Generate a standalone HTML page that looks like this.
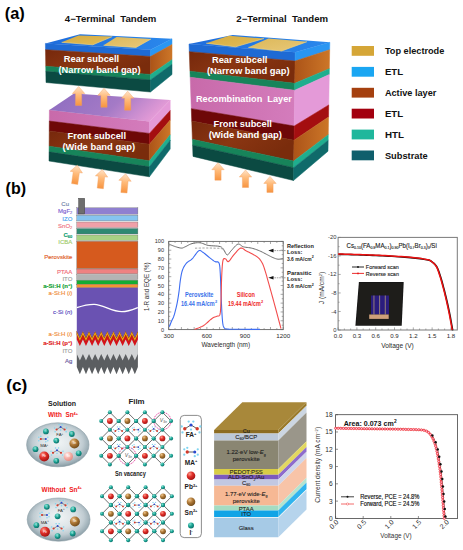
<!DOCTYPE html>
<html><head><meta charset="utf-8"><title>Tandem solar cells</title>
<style>
html,body{margin:0;padding:0;background:#fff;}
body{width:463px;height:550px;overflow:hidden;}
svg{display:block;font-family:"Liberation Sans",sans-serif;}
text{white-space:pre;}
</style></head><body>
<svg width="463" height="550" viewBox="0 0 463 550">
<defs>
<linearGradient id="gPurp" x1="0" y1="0" x2="1" y2="0.25">
 <stop offset="0" stop-color="#8c6cc0"/><stop offset="0.6" stop-color="#a47ac6"/><stop offset="1" stop-color="#e29ad6"/>
</linearGradient>
<linearGradient id="gBlueTop" x1="0" y1="0" x2="1" y2="0">
 <stop offset="0" stop-color="#1e6cdc"/><stop offset="1" stop-color="#2a88ec"/>
</linearGradient>
<linearGradient id="gArrow" x1="0" y1="0" x2="0" y2="1">
 <stop offset="0" stop-color="#ffe3c8"/><stop offset="0.45" stop-color="#ffbb7a"/><stop offset="1" stop-color="#f79440"/>
</linearGradient>
<linearGradient id="gBrownF" x1="0" y1="0" x2="1" y2="0.5">
 <stop offset="0" stop-color="#76280c"/><stop offset="0.5" stop-color="#8a3612"/><stop offset="1" stop-color="#7a2c0c"/>
</linearGradient>
<linearGradient id="gBrownR" x1="0" y1="0" x2="1" y2="0">
 <stop offset="0" stop-color="#ac5418"/><stop offset="1" stop-color="#cc7628"/>
</linearGradient>
<linearGradient id="gRedBrown" x1="0" y1="0" x2="0" y2="1">
 <stop offset="0" stop-color="#6a0606"/><stop offset="0.5" stop-color="#700a08"/><stop offset="1" stop-color="#80300e"/>
</linearGradient>
<linearGradient id="gPinkF" x1="0" y1="0" x2="1" y2="0">
 <stop offset="0" stop-color="#c86aaa"/><stop offset="1" stop-color="#d47cbc"/>
</linearGradient>
<linearGradient id="gGold" x1="0" y1="0" x2="1" y2="1">
 <stop offset="0" stop-color="#d6ac40"/><stop offset="1" stop-color="#e2bc58"/>
</linearGradient>
<linearGradient id="gGold2" x1="0" y1="0" x2="1" y2="1">
 <stop offset="0" stop-color="#dcb85a"/><stop offset="1" stop-color="#e8c878"/>
</linearGradient>

<radialGradient id="gEll" cx="0.5" cy="0.45" r="0.56">
 <stop offset="0" stop-color="#f0f4f5"/><stop offset="0.45" stop-color="#dde4e7"/><stop offset="0.72" stop-color="#c0ccd2"/><stop offset="0.9" stop-color="#9aacb4"/><stop offset="1" stop-color="#7f929b"/>
</radialGradient>
<radialGradient id="gTeal" cx="0.35" cy="0.3" r="0.75">
 <stop offset="0" stop-color="#7fe0d0"/><stop offset="0.5" stop-color="#1aa394"/><stop offset="1" stop-color="#0b6e66"/>
</radialGradient>
<radialGradient id="gRed" cx="0.35" cy="0.3" r="0.75">
 <stop offset="0" stop-color="#ff9a8a"/><stop offset="0.45" stop-color="#e0302a"/><stop offset="1" stop-color="#a01010"/>
</radialGradient>
<radialGradient id="gBrn" cx="0.35" cy="0.3" r="0.75">
 <stop offset="0" stop-color="#f0c890"/><stop offset="0.45" stop-color="#b07a38"/><stop offset="1" stop-color="#6e4818"/>
</radialGradient>
<radialGradient id="gPnk" cx="0.35" cy="0.3" r="0.75">
 <stop offset="0" stop-color="#fff0ee"/><stop offset="0.5" stop-color="#f6b2aa"/><stop offset="1" stop-color="#e08880"/>
</radialGradient>
</defs>
<rect width="463" height="550" fill="#fff"/>
<polygon points="45.40,43.40 150.50,49.70 150.50,56.47 45.50,49.66" fill="#1e6ad4" stroke="#1e6ad4" stroke-width="0.5"/>
<polygon points="45.50,49.66 150.50,56.47 150.50,74.45 45.75,66.27" fill="url(#gBrownF)" stroke="url(#gBrownF)" stroke-width="0.5"/>
<polygon points="45.75,66.27 150.50,74.45 150.50,79.94 45.83,71.36" fill="#17845a" stroke="#17845a" stroke-width="0.5"/>
<polygon points="45.83,71.36 150.50,79.94 150.50,92.00 46.00,82.50" fill="#0b4a42" stroke="#0b4a42" stroke-width="0.5"/>
<polygon points="150.50,49.70 172.00,38.80 172.00,44.51 150.50,56.47" fill="#2a96f2" stroke="#2a96f2" stroke-width="0.5"/>
<polygon points="150.50,56.47 172.00,44.51 172.00,59.68 150.50,74.45" fill="url(#gBrownR)" stroke="url(#gBrownR)" stroke-width="0.5"/>
<polygon points="150.50,74.45 172.00,59.68 172.00,64.33 150.50,79.94" fill="#1fae8e" stroke="#1fae8e" stroke-width="0.5"/>
<polygon points="150.50,79.94 172.00,64.33 172.00,74.50 150.50,92.00" fill="#0f6a6a" stroke="#0f6a6a" stroke-width="0.5"/>
<polygon points="45.40,43.40 150.50,49.70 172.00,38.80 80.00,34.20" fill="url(#gBlueTop)" />
<polygon points="61.60,42.30 92.80,44.80 112.20,36.60 78.50,35.40" fill="url(#gGold)" />
<polygon points="103.60,45.30 136.00,47.40 151.00,39.00 116.60,36.90" fill="url(#gGold2)" />
<polyline points="61.6,42.3 92.8,44.8 112.2,36.6" fill="none" stroke="#f4d27a" stroke-width="0.7"/>
<polyline points="103.6,45.3 136,47.4 151,39.0" fill="none" stroke="#f4d27a" stroke-width="0.7"/>
<polygon points="49.40,110.10 149.40,121.50 149.40,133.39 49.31,121.04" fill="url(#gPinkF)" stroke="url(#gPinkF)" stroke-width="0.5"/>
<polygon points="49.31,121.04 149.40,133.39 149.40,144.17 49.24,130.97" fill="#6e0808" stroke="#6e0808" stroke-width="0.5"/>
<polygon points="49.24,130.97 149.40,144.17 149.40,160.76 49.12,146.24" fill="url(#gBrownF)" stroke="url(#gBrownF)" stroke-width="0.5"/>
<polygon points="49.12,146.24 149.40,160.76 149.40,166.85 49.07,151.84" fill="#17845a" stroke="#17845a" stroke-width="0.5"/>
<polygon points="49.07,151.84 149.40,166.85 149.40,176.80 49.00,161.00" fill="#0b4a42" stroke="#0b4a42" stroke-width="0.5"/>
<polygon points="149.40,121.50 170.20,100.00 170.20,110.53 149.40,133.39" fill="#e49ad8" stroke="#e49ad8" stroke-width="0.5"/>
<polygon points="149.40,133.39 170.20,110.53 170.20,120.09 149.40,144.17" fill="#a40e10" stroke="#a40e10" stroke-width="0.5"/>
<polygon points="149.40,144.17 170.20,120.09 170.20,134.79 149.40,160.76" fill="url(#gBrownR)" stroke="url(#gBrownR)" stroke-width="0.5"/>
<polygon points="149.40,160.76 170.20,134.79 170.20,140.18 149.40,166.85" fill="#1fae8e" stroke="#1fae8e" stroke-width="0.5"/>
<polygon points="149.40,166.85 170.20,140.18 170.20,149.00 149.40,176.80" fill="#0f6a6a" stroke="#0f6a6a" stroke-width="0.5"/>
<polygon points="49.40,110.10 149.40,121.50 170.20,100.00 74.00,93.50" fill="url(#gPurp)" />
<polygon points="189.00,44.00 295.20,52.30 295.08,61.02 189.27,51.64" fill="#1e6ad4" stroke="#1e6ad4" stroke-width="0.5"/>
<polygon points="189.27,51.64 295.08,61.02 294.79,83.32 189.97,71.20" fill="url(#gBrownF)" stroke="url(#gBrownF)" stroke-width="0.5"/>
<polygon points="189.97,71.20 294.79,83.32 294.70,90.25 190.18,77.27" fill="#17845a" stroke="#17845a" stroke-width="0.5"/>
<polygon points="190.18,77.27 294.70,90.25 294.22,126.01 191.30,108.63" fill="url(#gPinkF)" stroke="url(#gPinkF)" stroke-width="0.5"/>
<polygon points="191.30,108.63 294.22,126.01 294.03,140.25 191.74,121.11" fill="#6e0808" stroke="#6e0808" stroke-width="0.5"/>
<polygon points="191.74,121.11 294.03,140.25 293.76,161.01 192.39,139.32" fill="url(#gBrownF)" stroke="url(#gBrownF)" stroke-width="0.5"/>
<polygon points="192.39,139.32 293.76,161.01 293.67,167.68 192.60,145.16" fill="#17845a" stroke="#17845a" stroke-width="0.5"/>
<polygon points="192.60,145.16 293.67,167.68 293.50,180.50 193.00,156.40" fill="#0b4a42" stroke="#0b4a42" stroke-width="0.5"/>
<polygon points="295.20,52.30 329.80,42.30 329.68,49.71 295.08,61.02" fill="#2a96f2" stroke="#2a96f2" stroke-width="0.5"/>
<polygon points="295.08,61.02 329.68,49.71 329.36,68.65 294.79,83.32" fill="url(#gBrownR)" stroke="url(#gBrownR)" stroke-width="0.5"/>
<polygon points="294.79,83.32 329.36,68.65 329.27,74.53 294.70,90.25" fill="#1fae8e" stroke="#1fae8e" stroke-width="0.5"/>
<polygon points="294.70,90.25 329.27,74.53 328.76,104.92 294.22,126.01" fill="#e49ad8" stroke="#e49ad8" stroke-width="0.5"/>
<polygon points="294.22,126.01 328.76,104.92 328.57,117.01 294.03,140.25" fill="#a40e10" stroke="#a40e10" stroke-width="0.5"/>
<polygon points="294.03,140.25 328.57,117.01 328.27,134.65 293.76,161.01" fill="url(#gBrownR)" stroke="url(#gBrownR)" stroke-width="0.5"/>
<polygon points="293.76,161.01 328.27,134.65 328.18,140.31 293.67,167.68" fill="#1fae8e" stroke="#1fae8e" stroke-width="0.5"/>
<polygon points="293.67,167.68 328.18,140.31 328.00,151.20 293.50,180.50" fill="#0f6a6a" stroke="#0f6a6a" stroke-width="0.5"/>
<polygon points="189.00,44.00 295.20,52.30 329.80,42.30 232.70,35.00" fill="url(#gBlueTop)" />
<polygon points="206.20,43.20 235.50,46.80 264.00,38.50 229.00,35.80" fill="url(#gGold)" />
<polygon points="248.30,47.30 281.50,51.00 307.00,41.70 268.50,38.60" fill="url(#gGold2)" />
<polyline points="206.2,43.2 235.5,46.8 264,38.5" fill="none" stroke="#f4d27a" stroke-width="0.7"/>
<polyline points="248.3,47.3 281.5,51 307,41.7" fill="none" stroke="#f4d27a" stroke-width="0.7"/>
<g transform="translate(78.6,86.5) rotate(0)"><polygon points="0.00,0.00 6.20,7.00 3.10,7.00 3.10,19.00 -3.10,19.00 -3.10,7.00 -6.20,7.00" fill="url(#gArrow)" stroke="#f3a060" stroke-width="0.4"/></g>
<g transform="translate(104,88.3) rotate(0)"><polygon points="0.00,0.00 6.20,7.00 3.10,7.00 3.10,19.00 -3.10,19.00 -3.10,7.00 -6.20,7.00" fill="url(#gArrow)" stroke="#f3a060" stroke-width="0.4"/></g>
<g transform="translate(127.7,91.2) rotate(0)"><polygon points="0.00,0.00 6.20,7.00 3.10,7.00 3.10,19.00 -3.10,19.00 -3.10,7.00 -6.20,7.00" fill="url(#gArrow)" stroke="#f3a060" stroke-width="0.4"/></g>
<g transform="translate(77.3,165.2) rotate(8)"><polygon points="0.00,0.00 6.20,7.00 3.10,7.00 3.10,19.00 -3.10,19.00 -3.10,7.00 -6.20,7.00" fill="url(#gArrow)" stroke="#f3a060" stroke-width="0.4"/></g>
<g transform="translate(102.3,169.5) rotate(6)"><polygon points="0.00,0.00 6.20,7.00 3.10,7.00 3.10,19.00 -3.10,19.00 -3.10,7.00 -6.20,7.00" fill="url(#gArrow)" stroke="#f3a060" stroke-width="0.4"/></g>
<g transform="translate(125.6,173.8) rotate(5)"><polygon points="0.00,0.00 6.20,7.00 3.10,7.00 3.10,19.00 -3.10,19.00 -3.10,7.00 -6.20,7.00" fill="url(#gArrow)" stroke="#f3a060" stroke-width="0.4"/></g>
<g transform="translate(218,162.7) rotate(0)"><polygon points="0.00,0.00 6.20,7.00 3.10,7.00 3.10,17.50 -3.10,17.50 -3.10,7.00 -6.20,7.00" fill="url(#gArrow)" stroke="#f3a060" stroke-width="0.4"/></g>
<g transform="translate(245.5,170) rotate(0)"><polygon points="0.00,0.00 6.20,7.00 3.10,7.00 3.10,17.50 -3.10,17.50 -3.10,7.00 -6.20,7.00" fill="url(#gArrow)" stroke="#f3a060" stroke-width="0.4"/></g>
<g transform="translate(270,176.4) rotate(0)"><polygon points="0.00,0.00 6.20,7.00 3.10,7.00 3.10,16.00 -3.10,16.00 -3.10,7.00 -6.20,7.00" fill="url(#gArrow)" stroke="#f3a060" stroke-width="0.4"/></g>
<text x="4.8" y="18.7" font-size="16.6" fill="#000" font-weight="bold" text-anchor="start" textLength="20" lengthAdjust="spacingAndGlyphs" >(a)</text>
<text x="64.8" y="22.4" font-size="8.9" fill="#111" font-weight="bold" text-anchor="start" textLength="91.6" lengthAdjust="spacingAndGlyphs" >4&#8722;Terminal  Tandem</text>
<text x="236.3" y="21.9" font-size="8.9" fill="#111" font-weight="bold" text-anchor="start" textLength="91.8" lengthAdjust="spacingAndGlyphs" >2&#8722;Terminal  Tandem</text>
<text x="63.8" y="62" font-size="9.3" fill="#fff" font-weight="bold" text-anchor="start" textLength="55.4" lengthAdjust="spacingAndGlyphs" >Rear subcell</text>
<text x="58.5" y="73" font-size="9.3" fill="#fff" font-weight="bold" text-anchor="start" textLength="82" lengthAdjust="spacingAndGlyphs" >(Narrow band gap)</text>
<text x="67.6" y="139" font-size="9.3" fill="#fff" font-weight="bold" text-anchor="start" textLength="58.4" lengthAdjust="spacingAndGlyphs" >Front subcell</text>
<text x="62.4" y="149.6" font-size="9.3" fill="#fff" font-weight="bold" text-anchor="start" textLength="72.8" lengthAdjust="spacingAndGlyphs" >(Wide band gap)</text>
<text x="211.9" y="63" font-size="9.3" fill="#fff" font-weight="bold" text-anchor="start" textLength="55.5" lengthAdjust="spacingAndGlyphs" >Rear subcell</text>
<text x="206.9" y="73.8" font-size="9.3" fill="#fff" font-weight="bold" text-anchor="start" textLength="82.7" lengthAdjust="spacingAndGlyphs" >(Narrow band gap)</text>
<text x="196" y="101.8" font-size="9.3" fill="#fff" font-weight="bold" text-anchor="start" textLength="95.8" lengthAdjust="spacingAndGlyphs" >Recombination  Layer</text>
<text x="213.6" y="127.3" font-size="9.3" fill="#fff" font-weight="bold" text-anchor="start" textLength="58.2" lengthAdjust="spacingAndGlyphs" >Front subcell</text>
<text x="208.7" y="138.2" font-size="9.3" fill="#fff" font-weight="bold" text-anchor="start" textLength="73.1" lengthAdjust="spacingAndGlyphs" >(Wide band gap)</text>
<rect x="351.7" y="46.0" width="22.3" height="9.8" fill="#d5a637"/>
<text x="384.9" y="54.0" font-size="9.9" fill="#111" font-weight="bold" text-anchor="start" textLength="59.4" lengthAdjust="spacingAndGlyphs" >Top electrode</text>
<rect x="351.7" y="66.9" width="22.3" height="9.8" fill="#1aa6f2"/>
<text x="384.9" y="74.9" font-size="9.9" fill="#111" font-weight="bold" text-anchor="start" textLength="18.2" lengthAdjust="spacingAndGlyphs" >ETL</text>
<rect x="351.7" y="87.8" width="22.3" height="9.8" fill="#a5400f"/>
<text x="384.9" y="95.8" font-size="9.9" fill="#111" font-weight="bold" text-anchor="start" textLength="51.5" lengthAdjust="spacingAndGlyphs" >Active layer</text>
<rect x="351.7" y="108.7" width="22.3" height="9.8" fill="#a3000f"/>
<text x="384.9" y="116.7" font-size="9.9" fill="#111" font-weight="bold" text-anchor="start" textLength="18.2" lengthAdjust="spacingAndGlyphs" >ETL</text>
<rect x="351.7" y="129.6" width="22.3" height="9.8" fill="#1fb79c"/>
<text x="384.9" y="137.6" font-size="9.9" fill="#111" font-weight="bold" text-anchor="start" textLength="19.0" lengthAdjust="spacingAndGlyphs" >HTL</text>
<rect x="351.7" y="150.5" width="22.3" height="9.8" fill="#0f5f6c"/>
<text x="384.9" y="158.5" font-size="9.9" fill="#111" font-weight="bold" text-anchor="start" textLength="42.8" lengthAdjust="spacingAndGlyphs" >Substrate</text>
<text x="5.6" y="193.6" font-size="16.6" fill="#000" font-weight="bold" text-anchor="start" textLength="20.5" lengthAdjust="spacingAndGlyphs" >(b)</text>
<rect x="76.8" y="207.8" width="61.1" height="6.4" fill="#8f80d0" stroke="#6a6a6a" stroke-width="0.35"/>
<rect x="76.8" y="215.2" width="61.1" height="5.7" fill="#86c4f0" stroke="#6a6a6a" stroke-width="0.35"/>
<rect x="76.8" y="222.0" width="61.1" height="5.5" fill="#f0a0a8" stroke="#6a6a6a" stroke-width="0.35"/>
<rect x="76.8" y="228.5" width="61.1" height="5.5" fill="#2e8a72" stroke="#6a6a6a" stroke-width="0.35"/>
<rect x="76.8" y="235.0" width="61.1" height="5.4" fill="#a8d284" stroke="#6a6a6a" stroke-width="0.35"/>
<rect x="76.8" y="241.3" width="61.1" height="27.3" fill="#d65a1e" stroke="#6a6a6a" stroke-width="0.35"/>
<rect x="76.8" y="269.0" width="61.1" height="4.8" fill="#ef8282" stroke="#6a6a6a" stroke-width="0.35"/>
<rect x="76.8" y="274.7" width="61.1" height="4.8" fill="#b4b4b4" stroke="#6a6a6a" stroke-width="0.35"/>
<rect x="76.8" y="280.2" width="61.1" height="4.0" fill="#14ac34" stroke="#6a6a6a" stroke-width="0.35"/>
<rect x="76.8" y="284.2" width="61.1" height="3.6" fill="#f39433" stroke="#6a6a6a" stroke-width="0.35"/>
<rect x="78.7" y="198.3" width="6" height="15.6" fill="#6e6e6e" stroke="#444" stroke-width="0.5"/>
<polygon points="76.80,331.00 79.86,337.40 82.91,331.00 85.97,337.40 89.02,331.00 92.08,337.40 95.13,331.00 98.19,337.40 101.24,331.00 104.30,337.40 107.35,331.00 110.41,337.40 113.46,331.00 116.52,337.40 119.57,331.00 122.62,337.40 125.68,331.00 128.74,337.40 131.79,331.00 134.84,337.40 137.90,331.00 137.90,367.00 134.84,374.30 131.79,367.00 128.74,374.30 125.68,367.00 122.62,374.30 119.57,367.00 116.52,374.30 113.46,367.00 110.41,374.30 107.35,367.00 104.30,374.30 101.24,367.00 98.19,374.30 95.13,367.00 92.08,374.30 89.02,367.00 85.97,374.30 82.91,367.00 79.86,374.30 76.80,367.00" fill="#5b5e61" />
<polygon points="76.80,331.00 79.86,337.40 82.91,331.00 85.97,337.40 89.02,331.00 92.08,337.40 95.13,331.00 98.19,337.40 101.24,331.00 104.30,337.40 107.35,331.00 110.41,337.40 113.46,331.00 116.52,337.40 119.57,331.00 122.62,337.40 125.68,331.00 128.74,337.40 131.79,331.00 134.84,337.40 137.90,331.00 137.90,354.00 134.84,360.50 131.79,354.00 128.74,360.50 125.68,354.00 122.62,360.50 119.57,354.00 116.52,360.50 113.46,354.00 110.41,360.50 107.35,354.00 104.30,360.50 101.24,354.00 98.19,360.50 95.13,354.00 92.08,360.50 89.02,354.00 85.97,360.50 82.91,354.00 79.86,360.50 76.80,354.00" fill="#d2d4d6" />
<polygon points="76.80,331.00 79.86,337.40 82.91,331.00 85.97,337.40 89.02,331.00 92.08,337.40 95.13,331.00 98.19,337.40 101.24,331.00 104.30,337.40 107.35,331.00 110.41,337.40 113.46,331.00 116.52,337.40 119.57,331.00 122.62,337.40 125.68,331.00 128.74,337.40 131.79,331.00 134.84,337.40 137.90,331.00 137.90,339.60 134.84,346.00 131.79,339.60 128.74,346.00 125.68,339.60 122.62,346.00 119.57,339.60 116.52,346.00 113.46,339.60 110.41,346.00 107.35,339.60 104.30,346.00 101.24,339.60 98.19,346.00 95.13,339.60 92.08,346.00 89.02,339.60 85.97,346.00 82.91,339.60 79.86,346.00 76.80,339.60" fill="#d6121a" />
<polygon points="76.80,331.00 79.86,337.40 82.91,331.00 85.97,337.40 89.02,331.00 92.08,337.40 95.13,331.00 98.19,337.40 101.24,331.00 104.30,337.40 107.35,331.00 110.41,337.40 113.46,331.00 116.52,337.40 119.57,331.00 122.62,337.40 125.68,331.00 128.74,337.40 131.79,331.00 134.84,337.40 137.90,331.00 137.90,335.10 134.84,341.50 131.79,335.10 128.74,341.50 125.68,335.10 122.62,341.50 119.57,335.10 116.52,341.50 113.46,335.10 110.41,341.50 107.35,335.10 104.30,341.50 101.24,335.10 98.19,341.50 95.13,335.10 92.08,341.50 89.02,335.10 85.97,341.50 82.91,335.10 79.86,341.50 76.80,335.10" fill="#6a3418" />
<polygon points="76.80,331.00 79.86,337.40 82.91,331.00 85.97,337.40 89.02,331.00 92.08,337.40 95.13,331.00 98.19,337.40 101.24,331.00 104.30,337.40 107.35,331.00 110.41,337.40 113.46,331.00 116.52,337.40 119.57,331.00 122.62,337.40 125.68,331.00 128.74,337.40 131.79,331.00 134.84,337.40 137.90,331.00 137.90,334.50 134.84,340.90 131.79,334.50 128.74,340.90 125.68,334.50 122.62,340.90 119.57,334.50 116.52,340.90 113.46,334.50 110.41,340.90 107.35,334.50 104.30,340.90 101.24,334.50 98.19,340.90 95.13,334.50 92.08,340.90 89.02,334.50 85.97,340.90 82.91,334.50 79.86,340.90 76.80,334.50" fill="#f2a012" />
<polygon points="76.80,331.00 79.86,337.40 82.91,331.00 85.97,337.40 89.02,331.00 92.08,337.40 95.13,331.00 98.19,337.40 101.24,331.00 104.30,337.40 107.35,331.00 110.41,337.40 113.46,331.00 116.52,337.40 119.57,331.00 122.62,337.40 125.68,331.00 128.74,337.40 131.79,331.00 134.84,337.40 137.90,331.00 137.90,331.80 134.84,338.20 131.79,331.80 128.74,338.20 125.68,331.80 122.62,338.20 119.57,331.80 116.52,338.20 113.46,331.80 110.41,338.20 107.35,331.80 104.30,338.20 101.24,331.80 98.19,338.20 95.13,331.80 92.08,338.20 89.02,331.80 85.97,338.20 82.91,331.80 79.86,338.20 76.80,331.80" fill="#6a3418" />
<polygon points="76.80,287.80 137.90,287.80 137.90,331.00 134.84,337.40 131.79,331.00 128.74,337.40 125.68,331.00 122.62,337.40 119.57,331.00 116.52,337.40 113.46,331.00 110.41,337.40 107.35,331.00 104.30,337.40 101.24,331.00 98.19,337.40 95.13,331.00 92.08,337.40 89.02,331.00 85.97,337.40 82.91,331.00 79.86,337.40 76.80,331.00" fill="#6a52b2" />
<path d="M76.8,307.7 C83,305.6 88,304.3 94.3,304.4 C103,304.6 112,311.7 121.8,311.7 C128,311.7 133,309.5 137.9,307.5" fill="none" stroke="#fff" stroke-width="1.3"/>
<text x="69.0" y="205.6" font-size="6" fill="#6d7fa8" font-weight="normal" text-anchor="end" stroke="#6d7fa8" stroke-width="0.15">Cu</text>
<text x="72.3" y="212.8" font-size="6" fill="#7d62d0" font-weight="normal" text-anchor="end" stroke="#7d62d0" stroke-width="0.15">MgF<tspan font-size='4' dy='1.2'>2</tspan></text>
<text x="72.3" y="220.9" font-size="6" fill="#4aa6f0" font-weight="normal" text-anchor="end" stroke="#4aa6f0" stroke-width="0.15">IZO</text>
<text x="72.3" y="228.0" font-size="6" fill="#f07080" font-weight="normal" text-anchor="end" stroke="#f07080" stroke-width="0.15">SnO<tspan font-size='4' dy='1.2'>2</tspan></text>
<text x="72.3" y="236.6" font-size="6" fill="#129e72" font-weight="bold" text-anchor="end" stroke="#129e72" stroke-width="0.15">C<tspan font-size='4' dy='1.2'>60</tspan></text>
<text x="72.3" y="243.6" font-size="6" fill="#a0cc6a" font-weight="normal" text-anchor="end" stroke="#a0cc6a" stroke-width="0.15">ICBA</text>
<text x="72.3" y="258.6" font-size="6" fill="#e0602a" font-weight="normal" text-anchor="end" stroke="#e0602a" stroke-width="0.15">Perovskite</text>
<text x="72.3" y="273.9" font-size="6" fill="#f06a78" font-weight="normal" text-anchor="end" stroke="#f06a78" stroke-width="0.15">PTAA</text>
<text x="72.3" y="280.7" font-size="6" fill="#a0a0a0" font-weight="normal" text-anchor="end" stroke="#a0a0a0" stroke-width="0.15">ITO</text>
<text x="72.3" y="288.0" font-size="6" fill="#10a030" font-weight="bold" text-anchor="end" stroke="#10a030" stroke-width="0.15">a-Si:H (n<tspan font-size='4' dy='-2'>+</tspan><tspan dy='2'>)</tspan></text>
<text x="72.3" y="295.2" font-size="6" fill="#f08a34" font-weight="normal" text-anchor="end" stroke="#f08a34" stroke-width="0.15">a-Si:H (<tspan font-style='italic'>i</tspan>)</text>
<text x="72.3" y="313.9" font-size="6" fill="#5a48c0" font-weight="normal" text-anchor="end" stroke="#5a48c0" stroke-width="0.15">c-Si (<tspan font-style='italic'>n</tspan>)</text>
<text x="72.3" y="336.0" font-size="6" fill="#f08a34" font-weight="normal" text-anchor="end" stroke="#f08a34" stroke-width="0.15">a-Si:H (<tspan font-style='italic'>i</tspan>)</text>
<text x="72.3" y="344.8" font-size="6" fill="#e02020" font-weight="bold" text-anchor="end" stroke="#e02020" stroke-width="0.15">a-Si:H (p<tspan font-size='4' dy='-2'>+</tspan><tspan dy='2'>)</tspan></text>
<text x="72.3" y="352.6" font-size="6" fill="#a0a0a0" font-weight="normal" text-anchor="end" stroke="#a0a0a0" stroke-width="0.15">ITO</text>
<text x="72.3" y="362.6" font-size="6" fill="#6a5aa0" font-weight="normal" text-anchor="end" stroke="#6a5aa0" stroke-width="0.15">Ag</text>
<path d="M168.7,329.60h2.6M283.2,329.60h-2.6M168.7,325.19h1.5M283.2,325.19h-1.5M168.7,320.78h2.6M283.2,320.78h-2.6M168.7,316.37h1.5M283.2,316.37h-1.5M168.7,311.96h2.6M283.2,311.96h-2.6M168.7,307.55h1.5M283.2,307.55h-1.5M168.7,303.14h2.6M283.2,303.14h-2.6M168.7,298.73h1.5M283.2,298.73h-1.5M168.7,294.32h2.6M283.2,294.32h-2.6M168.7,289.91h1.5M283.2,289.91h-1.5M168.7,285.50h2.6M283.2,285.50h-2.6M168.7,281.09h1.5M283.2,281.09h-1.5M168.7,276.68h2.6M283.2,276.68h-2.6M168.7,272.27h1.5M283.2,272.27h-1.5M168.7,267.86h2.6M283.2,267.86h-2.6M168.7,263.45h1.5M283.2,263.45h-1.5M168.7,259.04h2.6M283.2,259.04h-2.6M168.7,254.63h1.5M283.2,254.63h-1.5M168.7,250.22h2.6M283.2,250.22h-2.6M168.7,245.81h1.5M283.2,245.81h-1.5M168.7,241.40h2.6M283.2,241.40h-2.6M168.70,329.6v-2.6M168.70,241.4v2.6M175.06,329.6v-1.5M175.06,241.4v1.5M181.42,329.6v-2.6M181.42,241.4v2.6M187.78,329.6v-1.5M187.78,241.4v1.5M194.14,329.6v-2.6M194.14,241.4v2.6M200.51,329.6v-1.5M200.51,241.4v1.5M206.87,329.6v-2.6M206.87,241.4v2.6M213.23,329.6v-1.5M213.23,241.4v1.5M219.59,329.6v-2.6M219.59,241.4v2.6M225.95,329.6v-1.5M225.95,241.4v1.5M232.31,329.6v-2.6M232.31,241.4v2.6M238.67,329.6v-1.5M238.67,241.4v1.5M245.03,329.6v-2.6M245.03,241.4v2.6M251.39,329.6v-1.5M251.39,241.4v1.5M257.76,329.6v-2.6M257.76,241.4v2.6M264.12,329.6v-1.5M264.12,241.4v1.5M270.48,329.6v-2.6M270.48,241.4v2.6M276.84,329.6v-1.5M276.84,241.4v1.5M283.20,329.6v-2.6M283.20,241.4v2.6" stroke="#555" stroke-width="0.5" fill="none"/>
<rect x="168.7" y="241.4" width="114.5" height="88.2" fill="none" stroke="#666" stroke-width="0.9"/>
<text x="164" y="331.6" font-size="5.6" fill="#333" font-weight="normal" text-anchor="end" >0</text>
<text x="164" y="322.8" font-size="5.6" fill="#333" font-weight="normal" text-anchor="end" >10</text>
<text x="164" y="314.0" font-size="5.6" fill="#333" font-weight="normal" text-anchor="end" >20</text>
<text x="164" y="305.1" font-size="5.6" fill="#333" font-weight="normal" text-anchor="end" >30</text>
<text x="164" y="296.3" font-size="5.6" fill="#333" font-weight="normal" text-anchor="end" >40</text>
<text x="164" y="287.5" font-size="5.6" fill="#333" font-weight="normal" text-anchor="end" >50</text>
<text x="164" y="278.7" font-size="5.6" fill="#333" font-weight="normal" text-anchor="end" >60</text>
<text x="164" y="269.9" font-size="5.6" fill="#333" font-weight="normal" text-anchor="end" >70</text>
<text x="164" y="261.0" font-size="5.6" fill="#333" font-weight="normal" text-anchor="end" >80</text>
<text x="164" y="252.2" font-size="5.6" fill="#333" font-weight="normal" text-anchor="end" >90</text>
<text x="164" y="243.4" font-size="5.6" fill="#333" font-weight="normal" text-anchor="end" >100</text>
<text x="168.7" y="337.6" font-size="6.2" fill="#2a2a2a" font-weight="normal" text-anchor="middle" >300</text>
<text x="206.9" y="337.6" font-size="6.2" fill="#2a2a2a" font-weight="normal" text-anchor="middle" >600</text>
<text x="245.0" y="337.6" font-size="6.2" fill="#2a2a2a" font-weight="normal" text-anchor="middle" >900</text>
<text x="283.2" y="337.6" font-size="6.2" fill="#2a2a2a" font-weight="normal" text-anchor="middle" >1200</text>
<text x="201.5" y="346.6" font-size="7.0" fill="#2a2a2a" font-weight="normal" text-anchor="start" textLength="48.6" lengthAdjust="spacingAndGlyphs" >Wavelength (nm)</text>
<text x="0" y="0" font-size="6.6" fill="#333" font-weight="normal" text-anchor="middle" textLength="48.5" lengthAdjust="spacingAndGlyphs" transform="translate(149.3,286.7) rotate(-90)">1-R and EQE (%)</text>
<path d="M169.00,244.10 L169.57,244.34 L170.35,244.69 L171.28,245.09 L172.30,245.51 L173.36,245.93 L174.40,246.30 L175.48,246.66 L176.67,247.04 L177.89,247.42 L179.09,247.74 L180.21,247.98 L181.20,248.10 L182.00,248.08 L182.64,247.97 L183.20,247.76 L183.76,247.49 L184.40,247.16 L185.20,246.80 L186.16,246.35 L187.21,245.79 L188.34,245.17 L189.53,244.56 L190.76,244.02 L192.00,243.60 L193.27,243.29 L194.60,243.03 L195.97,242.84 L197.35,242.73 L198.73,242.71 L200.10,242.80 L201.42,243.06 L202.70,243.48 L203.98,243.99 L205.30,244.53 L206.69,245.03 L208.20,245.40 L209.92,245.63 L211.85,245.77 L213.86,245.87 L215.80,245.96 L217.56,246.09 L219.00,246.30 L220.06,246.56 L220.83,246.81 L221.42,247.11 L221.91,247.49 L222.41,247.97 L223.00,248.60 L223.68,249.54 L224.36,250.79 L225.05,252.15 L225.74,253.42 L226.42,254.41 L227.10,254.90 L227.74,254.85 L228.34,254.40 L228.93,253.66 L229.56,252.74 L230.27,251.75 L231.10,250.80 L232.09,249.72 L233.21,248.41 L234.41,247.03 L235.63,245.73 L236.82,244.70 L237.90,244.10 L238.85,244.02 L239.70,244.36 L240.52,244.95 L241.35,245.66 L242.26,246.32 L243.30,246.80 L244.49,247.08 L245.80,247.29 L247.18,247.45 L248.60,247.61 L250.02,247.82 L251.40,248.10 L252.75,248.45 L254.10,248.84 L255.45,249.28 L256.80,249.74 L258.15,250.25 L259.50,250.80 L260.88,251.42 L262.30,252.11 L263.72,252.85 L265.10,253.59 L266.41,254.28 L267.60,254.90 L268.66,255.44 L269.61,255.94 L270.49,256.41 L271.33,256.83 L272.15,257.23 L273.00,257.60 L273.86,257.96 L274.70,258.30 L275.52,258.61 L276.35,258.87 L277.17,259.07 L278.00,259.20 L278.89,259.22 L279.85,259.14 L280.81,259.00 L281.70,258.84 L282.46,258.69 L283.00,258.60" fill="none" stroke="#6a6a6a" stroke-width="1.0" stroke-linejoin="round"/>
<path d="M195.00,248.20 L196.09,248.17 L197.59,248.13 L199.38,248.09 L201.30,248.04 L203.22,248.01 L205.00,248.00 L206.70,248.01 L208.44,248.02 L210.19,248.05 L211.89,248.09 L213.51,248.14 L215.00,248.20 L216.39,248.25 L217.70,248.27 L218.94,248.31 L220.07,248.39 L221.10,248.54 L222.00,248.80 L222.77,249.22 L223.41,249.79 L223.94,250.44 L224.37,251.07 L224.72,251.62 L225.00,252.00" fill="none" stroke="#8a8a8a" stroke-width="0.8" stroke-linejoin="round" stroke-dasharray="2.2,1.5"/>
<path d="M169.30,326.70 L169.51,326.19 L169.79,325.50 L170.12,324.68 L170.49,323.76 L170.89,322.78 L171.30,321.80 L171.73,320.83 L172.20,319.86 L172.69,318.82 L173.20,317.70 L173.71,316.44 L174.20,315.00 L174.69,313.33 L175.20,311.46 L175.71,309.45 L176.21,307.37 L176.67,305.30 L177.10,303.30 L177.48,301.36 L177.83,299.43 L178.14,297.50 L178.44,295.57 L178.72,293.64 L179.00,291.70 L179.25,289.74 L179.48,287.74 L179.69,285.75 L179.90,283.78 L180.13,281.85 L180.40,280.00 L180.69,278.20 L180.97,276.43 L181.28,274.71 L181.63,273.05 L182.03,271.47 L182.50,270.00 L183.05,268.62 L183.67,267.33 L184.34,266.12 L185.06,265.00 L185.82,263.96 L186.60,263.00 L187.41,262.21 L188.26,261.60 L189.14,261.07 L190.06,260.53 L191.01,259.88 L192.00,259.00 L193.07,257.77 L194.23,256.22 L195.43,254.56 L196.61,252.98 L197.72,251.66 L198.70,250.80 L199.50,250.43 L200.16,250.41 L200.75,250.65 L201.34,251.08 L202.00,251.62 L202.80,252.20 L203.78,252.88 L204.89,253.76 L206.06,254.74 L207.26,255.76 L208.42,256.73 L209.50,257.60 L210.50,258.38 L211.48,259.13 L212.42,259.85 L213.32,260.51 L214.18,261.10 L215.00,261.60 L215.78,261.87 L216.54,261.90 L217.26,261.86 L217.92,261.92 L218.51,262.24 L219.00,263.00 L219.38,264.10 L219.64,265.40 L219.84,266.96 L219.99,268.87 L220.13,271.19 L220.30,274.00 L220.48,277.51 L220.64,281.70 L220.80,286.31 L220.96,291.07 L221.12,295.72 L221.30,300.00 L221.49,304.08 L221.69,308.21 L221.89,312.24 L222.11,315.99 L222.35,319.29 L222.60,322.00 L222.86,324.01 L223.13,325.43 L223.41,326.42 L223.73,327.11 L224.08,327.66 L224.50,328.20 L224.89,328.66 L225.23,328.92 L225.62,329.02 L226.14,329.05 L226.91,329.05 L228.00,329.10 L229.42,329.18 L231.07,329.22 L232.97,329.25 L235.09,329.27 L237.44,329.28 L240.00,329.30 L243.10,329.32 L246.81,329.34 L250.75,329.36 L254.52,329.38 L257.73,329.39 L260.00,329.40" fill="none" stroke="#3d6df2" stroke-width="1.1" stroke-linejoin="round"/>
<path d="M194.60,329.40 L195.56,329.04 L196.89,328.57 L198.46,328.00 L200.16,327.33 L201.84,326.56 L203.40,325.70 L204.89,324.65 L206.41,323.38 L207.94,322.01 L209.41,320.67 L210.78,319.46 L212.00,318.50 L213.06,317.83 L214.01,317.36 L214.85,317.02 L215.61,316.76 L216.32,316.51 L217.00,316.20 L217.64,315.99 L218.22,315.96 L218.75,315.94 L219.22,315.76 L219.64,315.24 L220.00,314.20 L220.29,312.65 L220.49,310.73 L220.64,308.47 L220.76,305.91 L220.87,303.07 L221.00,300.00 L221.13,296.47 L221.23,292.42 L221.33,288.09 L221.43,283.75 L221.55,279.63 L221.70,276.00 L221.87,272.74 L222.04,269.62 L222.22,266.73 L222.44,264.16 L222.70,261.99 L223.00,260.30 L223.37,259.20 L223.80,258.66 L224.26,258.51 L224.75,258.61 L225.23,258.82 L225.70,259.00 L226.12,259.32 L226.50,259.92 L226.88,260.64 L227.30,261.28 L227.79,261.66 L228.40,261.60 L229.13,261.02 L229.95,260.06 L230.84,258.84 L231.80,257.49 L232.79,256.13 L233.80,254.90 L234.87,253.66 L236.01,252.29 L237.20,250.91 L238.39,249.67 L239.53,248.68 L240.60,248.10 L241.58,248.00 L242.50,248.30 L243.39,248.86 L244.25,249.55 L245.12,250.24 L246.00,250.80 L246.88,251.23 L247.75,251.65 L248.62,252.06 L249.50,252.50 L250.42,252.97 L251.40,253.50 L252.47,254.09 L253.63,254.71 L254.83,255.38 L256.01,256.09 L257.12,256.83 L258.10,257.60 L258.95,258.39 L259.70,259.20 L260.38,260.05 L261.01,260.95 L261.61,261.93 L262.20,263.00 L262.74,264.09 L263.21,265.17 L263.66,266.33 L264.11,267.65 L264.61,269.21 L265.20,271.10 L265.89,273.37 L266.64,275.97 L267.44,278.81 L268.28,281.81 L269.14,284.90 L270.00,288.00 L270.88,291.15 L271.78,294.41 L272.71,297.77 L273.64,301.17 L274.58,304.60 L275.50,308.00 L276.48,311.64 L277.54,315.59 L278.59,319.55 L279.57,323.24 L280.40,326.35 L281.00,328.60" fill="none" stroke="#f24c4c" stroke-width="1.1" stroke-linejoin="round"/>
<text x="184.9" y="296.9" font-size="6.5" fill="#3a72ea" font-weight="bold" text-anchor="start" textLength="28.6" lengthAdjust="spacingAndGlyphs" >Perovskite</text>
<text x="181" y="305.9" font-size="6.5" fill="#3a72ea" font-weight="bold" text-anchor="start" textLength="33.6" lengthAdjust="spacingAndGlyphs" >16.44 mA/cm</text>
<text x="214.9" y="303.2" font-size="4.0" fill="#3a72ea" font-weight="bold" text-anchor="start" >2</text>
<text x="236.7" y="296.9" font-size="6.5" fill="#ee2a2a" font-weight="bold" text-anchor="start" textLength="18.3" lengthAdjust="spacingAndGlyphs" >Silicon</text>
<text x="228" y="305.9" font-size="6.5" fill="#ee2a2a" font-weight="bold" text-anchor="start" textLength="32.8" lengthAdjust="spacingAndGlyphs" >19.44 mA/cm</text>
<text x="261.0" y="303.2" font-size="4.0" fill="#ee2a2a" font-weight="bold" text-anchor="start" >2</text>
<path d="M272,250.6H286" stroke="#777" stroke-width="0.7" stroke-dasharray="1.6,0.8"/>
<polygon points="268.30,250.60 273.50,248.80 273.50,252.40" fill="#111" />
<path d="M272,277.8H286" stroke="#777" stroke-width="0.7" stroke-dasharray="1.6,0.8"/>
<polygon points="268.30,277.80 273.50,276.00 273.50,279.60" fill="#111" />
<text x="287" y="247.9" font-size="5.9" fill="#1a1a1a" font-weight="bold" text-anchor="start" textLength="26.8" lengthAdjust="spacingAndGlyphs" >Reflection</text>
<text x="287" y="254.4" font-size="5.9" fill="#1a1a1a" font-weight="bold" text-anchor="start" textLength="15.5" lengthAdjust="spacingAndGlyphs" >Loss:</text>
<text x="287" y="260.7" font-size="5.9" fill="#1a1a1a" font-weight="bold" text-anchor="start" textLength="24.5" lengthAdjust="spacingAndGlyphs" >3.6 mA/cm</text>
<text x="311.8" y="258.3" font-size="3.6" fill="#1a1a1a" font-weight="bold" text-anchor="start" >2</text>
<text x="287" y="274.6" font-size="5.9" fill="#1a1a1a" font-weight="bold" text-anchor="start" textLength="24.5" lengthAdjust="spacingAndGlyphs" >Parasitic</text>
<text x="287" y="281.1" font-size="5.9" fill="#1a1a1a" font-weight="bold" text-anchor="start" textLength="15.5" lengthAdjust="spacingAndGlyphs" >Loss:</text>
<text x="287" y="288.0" font-size="5.9" fill="#1a1a1a" font-weight="bold" text-anchor="start" textLength="24.5" lengthAdjust="spacingAndGlyphs" >3.6 mA/cm</text>
<text x="311.8" y="285.6" font-size="3.6" fill="#1a1a1a" font-weight="bold" text-anchor="start" >2</text>
<path d="M338.1,330.00h2.6M338.1,320.74h1.5M338.1,311.48h2.6M338.1,302.22h1.5M338.1,292.96h2.6M338.1,283.70h1.5M338.1,274.44h2.6M338.1,265.18h1.5M338.1,255.92h2.6M338.1,246.66h1.5M338.1,237.40h2.6M338.10,330.0v-2.6M344.37,330.0v-1.5M350.63,330.0v-1.5M356.90,330.0v-2.6M363.17,330.0v-1.5M369.44,330.0v-1.5M375.70,330.0v-2.6M381.97,330.0v-1.5M388.24,330.0v-1.5M394.50,330.0v-2.6M400.77,330.0v-1.5M407.04,330.0v-1.5M413.30,330.0v-2.6M419.57,330.0v-1.5M425.84,330.0v-1.5M432.11,330.0v-2.6M438.37,330.0v-1.5M444.64,330.0v-1.5M450.91,330.0v-2.6" stroke="#555" stroke-width="0.5" fill="none"/>
<rect x="338.1" y="237.4" width="119.2" height="92.6" fill="none" stroke="#7a7a7a" stroke-width="1.0"/>
<text x="336.4" y="332.0" font-size="5.8" fill="#333" font-weight="normal" text-anchor="end" >0</text>
<text x="336.4" y="313.5" font-size="5.8" fill="#333" font-weight="normal" text-anchor="end" >-4</text>
<text x="336.4" y="295.0" font-size="5.8" fill="#333" font-weight="normal" text-anchor="end" >-8</text>
<text x="336.4" y="276.4" font-size="5.8" fill="#333" font-weight="normal" text-anchor="end" >-12</text>
<text x="336.4" y="257.9" font-size="5.8" fill="#333" font-weight="normal" text-anchor="end" >-16</text>
<text x="336.4" y="239.4" font-size="5.8" fill="#333" font-weight="normal" text-anchor="end" >-20</text>
<text x="338.1" y="338.3" font-size="6.1" fill="#2a2a2a" font-weight="normal" text-anchor="middle" >0.0</text>
<text x="356.9" y="338.3" font-size="6.1" fill="#2a2a2a" font-weight="normal" text-anchor="middle" >0.3</text>
<text x="375.7" y="338.3" font-size="6.1" fill="#2a2a2a" font-weight="normal" text-anchor="middle" >0.6</text>
<text x="394.5" y="338.3" font-size="6.1" fill="#2a2a2a" font-weight="normal" text-anchor="middle" >0.9</text>
<text x="413.3" y="338.3" font-size="6.1" fill="#2a2a2a" font-weight="normal" text-anchor="middle" >1.2</text>
<text x="432.1" y="338.3" font-size="6.1" fill="#2a2a2a" font-weight="normal" text-anchor="middle" >1.5</text>
<text x="450.9" y="338.3" font-size="6.1" fill="#2a2a2a" font-weight="normal" text-anchor="middle" >1.8</text>
<text x="381.2" y="348.2" font-size="7.2" fill="#2a2a2a" font-weight="normal" text-anchor="start" textLength="32.6" lengthAdjust="spacingAndGlyphs" >Voltage (V)</text>
<text x="0" y="0" font-size="6.6" fill="#333" font-weight="normal" text-anchor="middle" transform="translate(324.3,288) rotate(-90)">J (mA/cm<tspan font-size='4.2' dy='-2.3'>2</tspan><tspan dy='2.3'>)</tspan></text>
<text x="346.5" y="247.7" font-size="6.9" fill="#1a1a1a" font-weight="normal" text-anchor="start" textLength="90.3" lengthAdjust="spacingAndGlyphs" stroke="#1a1a1a" stroke-width="0.12">Cs<tspan font-size='4' dy='1.3'>0.10</tspan><tspan dy='-1.3'>(FA</tspan><tspan font-size='4' dy='1.3'>0.9</tspan><tspan dy='-1.3'>MA</tspan><tspan font-size='4' dy='1.3'>0.1</tspan><tspan dy='-1.3'>)</tspan><tspan font-size='4' dy='1.3'>0.90</tspan><tspan dy='-1.3'>Pb(I</tspan><tspan font-size='4' dy='1.3'>0.7</tspan><tspan dy='-1.3'>Br</tspan><tspan font-size='4' dy='1.3'>0.3</tspan><tspan dy='-1.3'>)</tspan><tspan font-size='4' dy='1.3'>3</tspan><tspan dy='-1.3'>/Si</tspan></text>
<polygon points="358.90,282.00 403.70,282.00 401.70,325.80 355.40,325.80" fill="#161616" />
<polygon points="359.50,283.00 402.80,283.00 401.00,325.00 356.40,325.00" fill="#1e1d1a" />
<rect x="371" y="295.5" width="18" height="19" fill="#2a1c7e"/>
<rect x="373.5" y="295.5" width="0.9" height="19" fill="#a08a78"/>
<rect x="379.2" y="295.5" width="0.9" height="19" fill="#a08a78"/>
<rect x="384.8" y="295.5" width="0.9" height="19" fill="#a08a78"/>
<rect x="369.2" y="314.5" width="19.5" height="4.4" fill="#cfa07a"/>
<path d="M338.10,254.00 L339.77,254.04 L341.96,254.10 L344.57,254.16 L347.49,254.24 L350.60,254.32 L353.79,254.41 L356.96,254.50 L360.00,254.60 L362.98,254.70 L366.03,254.81 L369.15,254.91 L372.31,255.03 L375.49,255.16 L378.68,255.29 L381.85,255.44 L385.00,255.60 L388.18,255.78 L391.45,255.97 L394.76,256.17 L398.04,256.38 L401.26,256.60 L404.36,256.83 L407.29,257.06 L410.00,257.30 L412.53,257.54 L414.95,257.80 L417.25,258.07 L419.41,258.34 L421.40,258.61 L423.23,258.88 L424.87,259.14 L426.30,259.40 L427.46,259.63 L428.33,259.82 L428.97,260.00 L429.46,260.17 L429.86,260.38 L430.24,260.62 L430.67,260.92 L431.20,261.30 L431.82,261.75 L432.46,262.24 L433.11,262.77 L433.75,263.36 L434.38,263.99 L434.99,264.67 L435.56,265.41 L436.10,266.20 L436.59,267.05 L437.04,267.94 L437.45,268.89 L437.85,269.89 L438.23,270.95 L438.61,272.05 L439.00,273.20 L439.40,274.40 L439.81,275.66 L440.22,276.99 L440.64,278.37 L441.05,279.79 L441.46,281.26 L441.87,282.76 L442.29,284.27 L442.70,285.80 L443.11,287.35 L443.53,288.92 L443.94,290.52 L444.36,292.14 L444.77,293.80 L445.18,295.47 L445.59,297.17 L446.00,298.90 L446.41,300.65 L446.81,302.42 L447.22,304.22 L447.62,306.04 L448.02,307.89 L448.42,309.77 L448.81,311.67 L449.20,313.60 L449.61,315.68 L450.03,317.96 L450.47,320.35 L450.90,322.72 L451.30,324.98 L451.67,327.01 L451.97,328.72 L452.20,330.00" fill="none" stroke="#111" stroke-width="1.6" transform="translate(0.5,0.3)"/>
<path d="M338.10,254.00 L339.77,254.04 L341.96,254.10 L344.57,254.16 L347.49,254.24 L350.60,254.32 L353.79,254.41 L356.96,254.50 L360.00,254.60 L362.98,254.70 L366.03,254.81 L369.15,254.91 L372.31,255.03 L375.49,255.16 L378.68,255.29 L381.85,255.44 L385.00,255.60 L388.18,255.78 L391.45,255.97 L394.76,256.17 L398.04,256.38 L401.26,256.60 L404.36,256.83 L407.29,257.06 L410.00,257.30 L412.53,257.54 L414.95,257.80 L417.25,258.07 L419.41,258.34 L421.40,258.61 L423.23,258.88 L424.87,259.14 L426.30,259.40 L427.46,259.63 L428.33,259.82 L428.97,260.00 L429.46,260.17 L429.86,260.38 L430.24,260.62 L430.67,260.92 L431.20,261.30 L431.82,261.75 L432.46,262.24 L433.11,262.77 L433.75,263.36 L434.38,263.99 L434.99,264.67 L435.56,265.41 L436.10,266.20 L436.59,267.05 L437.04,267.94 L437.45,268.89 L437.85,269.89 L438.23,270.95 L438.61,272.05 L439.00,273.20 L439.40,274.40 L439.81,275.66 L440.22,276.99 L440.64,278.37 L441.05,279.79 L441.46,281.26 L441.87,282.76 L442.29,284.27 L442.70,285.80 L443.11,287.35 L443.53,288.92 L443.94,290.52 L444.36,292.14 L444.77,293.80 L445.18,295.47 L445.59,297.17 L446.00,298.90 L446.41,300.65 L446.81,302.42 L447.22,304.22 L447.62,306.04 L448.02,307.89 L448.42,309.77 L448.81,311.67 L449.20,313.60 L449.61,315.68 L450.03,317.96 L450.47,320.35 L450.90,322.72 L451.30,324.98 L451.67,327.01 L451.97,328.72 L452.20,330.00" fill="none" stroke="#ee1010" stroke-width="1.5"/>
<path d="M352,267H364" stroke="#111" stroke-width="0.9"/><circle cx="358" cy="267" r="0.9" fill="#111"/>
<path d="M352,273.4H364" stroke="#e81818" stroke-width="0.9"/><circle cx="358" cy="273.4" r="0.9" fill="#e81818"/>
<text x="365.8" y="269.1" font-size="5.8" fill="#1a1a1a" font-weight="normal" text-anchor="start" textLength="33.1" lengthAdjust="spacingAndGlyphs" stroke="#1a1a1a" stroke-width="0.12">Forward scan</text>
<text x="365.8" y="275.5" font-size="5.8" fill="#1a1a1a" font-weight="normal" text-anchor="start" textLength="33.1" lengthAdjust="spacingAndGlyphs" stroke="#1a1a1a" stroke-width="0.12">Reverse scan</text>
<text x="6.2" y="391.3" font-size="16.6" fill="#000" font-weight="bold" text-anchor="start" textLength="21.2" lengthAdjust="spacingAndGlyphs" >(c)</text>
<text x="62" y="405.8" font-size="7.2" fill="#222" font-weight="bold" text-anchor="middle" textLength="28" lengthAdjust="spacingAndGlyphs" >Solution</text>
<text x="48" y="417.4" font-size="7" fill="#f01818" font-weight="bold" text-anchor="start" textLength="30" lengthAdjust="spacingAndGlyphs" >With  Sn<tspan font-size='4.2' dy='-2.6'>4+</tspan></text>
<text x="41.6" y="491.9" font-size="7" fill="#f01818" font-weight="bold" text-anchor="start" textLength="40.2" lengthAdjust="spacingAndGlyphs" >Without  Sn<tspan font-size='4.2' dy='-2.6'>4+</tspan></text>
<ellipse cx="57.8" cy="444.8" rx="31.2" ry="22" fill="url(#gEll)" stroke="#8a9ca4" stroke-width="0.6"/>
<circle cx="45.9" cy="431.4" r="2.9" fill="url(#gTeal)"/>
<text x="45.9" y="432.3" font-size="2.6" fill="#fff" text-anchor="middle">I</text>
<circle cx="71.8" cy="434.0" r="2.9" fill="url(#gTeal)"/>
<text x="71.8" y="434.9" font-size="2.6" fill="#fff" text-anchor="middle">I</text>
<circle cx="56.3" cy="440.6" r="2.9" fill="url(#gTeal)"/>
<text x="56.3" y="441.5" font-size="2.6" fill="#fff" text-anchor="middle">I</text>
<circle cx="35.5" cy="449.2" r="2.9" fill="url(#gTeal)"/>
<text x="35.5" y="450.1" font-size="2.6" fill="#fff" text-anchor="middle">I</text>
<circle cx="78.7" cy="453.3" r="2.9" fill="url(#gTeal)"/>
<text x="78.7" y="454.2" font-size="2.6" fill="#fff" text-anchor="middle">I</text>
<circle cx="56.3" cy="460.8" r="2.9" fill="url(#gTeal)"/>
<text x="56.3" y="461.7" font-size="2.6" fill="#fff" text-anchor="middle">I</text>
<circle cx="74.4" cy="443.5" r="5.0" fill="url(#gBrn)"/>
<text x="74.4" y="444.4" font-size="2.8" fill="#fff" text-anchor="middle">Sn</text>
<circle cx="44.2" cy="456.5" r="5.0" fill="url(#gRed)"/>
<text x="44.2" y="457.4" font-size="2.8" fill="#fff" text-anchor="middle">Pb</text>
<circle cx="68.4" cy="456.5" r="4.6" fill="url(#gPnk)"/>
<text x="68.4" y="457.4" font-size="2.6" fill="#fff" text-anchor="middle">Sn</text>
<g transform="translate(60.6,428.0) scale(1.0)"><line x1="-4" y1="1.5" x2="0" y2="-1" stroke="#555" stroke-width="0.6"/><line x1="0" y1="-1" x2="4" y2="1.5" stroke="#555" stroke-width="0.6"/><circle cx="-6" cy="0" r="0.75" fill="#7fd4f0"/><circle cx="-5.5" cy="3.8" r="0.75" fill="#7fd4f0"/><circle cx="6" cy="0" r="0.75" fill="#7fd4f0"/><circle cx="5.5" cy="3.8" r="0.75" fill="#7fd4f0"/><circle cx="-1.5" cy="-3.2" r="0.75" fill="#7fd4f0"/><circle cx="1.5" cy="-3.2" r="0.75" fill="#7fd4f0"/><circle cx="0" cy="2" r="0.75" fill="#7fd4f0"/><circle cx="-4" cy="1.5" r="1.1" fill="#d03a2a"/><circle cx="4" cy="1.5" r="1.1" fill="#d03a2a"/><circle cx="0" cy="-1" r="1.0" fill="#2a4ad0"/></g>
<g transform="translate(57.0,451.3) scale(1.0)"><line x1="-4" y1="1.5" x2="0" y2="-1" stroke="#555" stroke-width="0.6"/><line x1="0" y1="-1" x2="4" y2="1.5" stroke="#555" stroke-width="0.6"/><circle cx="-6" cy="0" r="0.75" fill="#7fd4f0"/><circle cx="-5.5" cy="3.8" r="0.75" fill="#7fd4f0"/><circle cx="6" cy="0" r="0.75" fill="#7fd4f0"/><circle cx="5.5" cy="3.8" r="0.75" fill="#7fd4f0"/><circle cx="-1.5" cy="-3.2" r="0.75" fill="#7fd4f0"/><circle cx="1.5" cy="-3.2" r="0.75" fill="#7fd4f0"/><circle cx="0" cy="2" r="0.75" fill="#7fd4f0"/><circle cx="-4" cy="1.5" r="1.1" fill="#d03a2a"/><circle cx="4" cy="1.5" r="1.1" fill="#d03a2a"/><circle cx="0" cy="-1" r="1.0" fill="#2a4ad0"/></g>
<g transform="translate(43.3,439.0) scale(1.0)"><line x1="-2.5" y1="0" x2="2.5" y2="0" stroke="#555" stroke-width="0.6"/><circle cx="-4.5" cy="-1.8" r="0.75" fill="#7fd4f0"/><circle cx="-4.5" cy="1.8" r="0.75" fill="#7fd4f0"/><circle cx="-2.5" cy="-2.8" r="0.75" fill="#7fd4f0"/><circle cx="4.5" cy="-1.8" r="0.75" fill="#7fd4f0"/><circle cx="4.5" cy="1.8" r="0.75" fill="#7fd4f0"/><circle cx="2.5" cy="2.8" r="0.75" fill="#7fd4f0"/><circle cx="-2.5" cy="0" r="1.1" fill="#d03a2a"/><circle cx="2.5" cy="0" r="1.0" fill="#2a4ad0"/></g>
<text x="59.8" y="436.3" font-size="4.3" fill="#333" font-weight="normal" text-anchor="middle" >FA<tspan font-size='2.8' dy='-1.6'>+</tspan></text>
<text x="44.2" y="447.3" font-size="4.3" fill="#333" font-weight="normal" text-anchor="middle" >MA<tspan font-size='2.8' dy='-1.6'>+</tspan></text>
<ellipse cx="58.6" cy="519.6" rx="31.4" ry="21.6" fill="url(#gEll)" stroke="#8a9ca4" stroke-width="0.6"/>
<circle cx="46.8" cy="506.8" r="2.9" fill="url(#gTeal)"/>
<text x="46.8" y="507.7" font-size="2.6" fill="#fff" text-anchor="middle">I</text>
<circle cx="73.2" cy="509.4" r="2.9" fill="url(#gTeal)"/>
<text x="73.2" y="510.3" font-size="2.6" fill="#fff" text-anchor="middle">I</text>
<circle cx="57.6" cy="516.3" r="2.9" fill="url(#gTeal)"/>
<text x="57.6" y="517.2" font-size="2.6" fill="#fff" text-anchor="middle">I</text>
<circle cx="36.4" cy="525.2" r="2.9" fill="url(#gTeal)"/>
<text x="36.4" y="526.1" font-size="2.6" fill="#fff" text-anchor="middle">I</text>
<circle cx="72.7" cy="533.5" r="2.9" fill="url(#gTeal)"/>
<text x="72.7" y="534.4" font-size="2.6" fill="#fff" text-anchor="middle">I</text>
<circle cx="57.6" cy="536.1" r="2.9" fill="url(#gTeal)"/>
<text x="57.6" y="537.0" font-size="2.6" fill="#fff" text-anchor="middle">I</text>
<circle cx="74.9" cy="521.5" r="5.0" fill="url(#gBrn)"/>
<text x="74.9" y="522.4" font-size="2.8" fill="#fff" text-anchor="middle">Sn</text>
<circle cx="45.0" cy="531.8" r="5.0" fill="url(#gRed)"/>
<text x="45.0" y="532.7" font-size="2.8" fill="#fff" text-anchor="middle">Pb</text>
<g transform="translate(61.5,503.8) scale(1.0)"><line x1="-4" y1="1.5" x2="0" y2="-1" stroke="#555" stroke-width="0.6"/><line x1="0" y1="-1" x2="4" y2="1.5" stroke="#555" stroke-width="0.6"/><circle cx="-6" cy="0" r="0.75" fill="#7fd4f0"/><circle cx="-5.5" cy="3.8" r="0.75" fill="#7fd4f0"/><circle cx="6" cy="0" r="0.75" fill="#7fd4f0"/><circle cx="5.5" cy="3.8" r="0.75" fill="#7fd4f0"/><circle cx="-1.5" cy="-3.2" r="0.75" fill="#7fd4f0"/><circle cx="1.5" cy="-3.2" r="0.75" fill="#7fd4f0"/><circle cx="0" cy="2" r="0.75" fill="#7fd4f0"/><circle cx="-4" cy="1.5" r="1.1" fill="#d03a2a"/><circle cx="4" cy="1.5" r="1.1" fill="#d03a2a"/><circle cx="0" cy="-1" r="1.0" fill="#2a4ad0"/></g>
<g transform="translate(57.6,527.0) scale(1.0)"><line x1="-4" y1="1.5" x2="0" y2="-1" stroke="#555" stroke-width="0.6"/><line x1="0" y1="-1" x2="4" y2="1.5" stroke="#555" stroke-width="0.6"/><circle cx="-6" cy="0" r="0.75" fill="#7fd4f0"/><circle cx="-5.5" cy="3.8" r="0.75" fill="#7fd4f0"/><circle cx="6" cy="0" r="0.75" fill="#7fd4f0"/><circle cx="5.5" cy="3.8" r="0.75" fill="#7fd4f0"/><circle cx="-1.5" cy="-3.2" r="0.75" fill="#7fd4f0"/><circle cx="1.5" cy="-3.2" r="0.75" fill="#7fd4f0"/><circle cx="0" cy="2" r="0.75" fill="#7fd4f0"/><circle cx="-4" cy="1.5" r="1.1" fill="#d03a2a"/><circle cx="4" cy="1.5" r="1.1" fill="#d03a2a"/><circle cx="0" cy="-1" r="1.0" fill="#2a4ad0"/></g>
<g transform="translate(44.5,515.0) scale(1.0)"><line x1="-2.5" y1="0" x2="2.5" y2="0" stroke="#555" stroke-width="0.6"/><circle cx="-4.5" cy="-1.8" r="0.75" fill="#7fd4f0"/><circle cx="-4.5" cy="1.8" r="0.75" fill="#7fd4f0"/><circle cx="-2.5" cy="-2.8" r="0.75" fill="#7fd4f0"/><circle cx="4.5" cy="-1.8" r="0.75" fill="#7fd4f0"/><circle cx="4.5" cy="1.8" r="0.75" fill="#7fd4f0"/><circle cx="2.5" cy="2.8" r="0.75" fill="#7fd4f0"/><circle cx="-2.5" cy="0" r="1.1" fill="#d03a2a"/><circle cx="2.5" cy="0" r="1.0" fill="#2a4ad0"/></g>
<text x="61.2" y="511.8" font-size="4.3" fill="#333" font-weight="normal" text-anchor="middle" >FA<tspan font-size='2.8' dy='-1.6'>+</tspan></text>
<text x="44.8" y="523.5" font-size="4.3" fill="#333" font-weight="normal" text-anchor="middle" >MA<tspan font-size='2.8' dy='-1.6'>+</tspan></text>
<path d="M101.20,421.00L109.90,412.30L118.60,421.00L109.90,429.70ZM118.70,421.00L127.40,412.30L136.10,421.00L127.40,429.70ZM136.20,421.00L144.90,412.30L153.60,421.00L144.90,429.70ZM153.70,421.00L162.40,412.30L171.10,421.00L162.40,429.70ZM101.20,438.40L109.90,429.70L118.60,438.40L109.90,447.10ZM118.70,438.40L127.40,429.70L136.10,438.40L127.40,447.10ZM136.20,438.40L144.90,429.70L153.60,438.40L144.90,447.10ZM153.70,438.40L162.40,429.70L171.10,438.40L162.40,447.10ZM101.20,455.80L109.90,447.10L118.60,455.80L109.90,464.50ZM118.70,455.80L127.40,447.10L136.10,455.80L127.40,464.50ZM136.20,455.80L144.90,447.10L153.60,455.80L144.90,464.50ZM153.70,455.80L162.40,447.10L171.10,455.80L162.40,464.50Z" fill="none" stroke="#4a4a4a" stroke-width="0.8"/>
<g transform="translate(118.7,429.7) scale(0.85)"><line x1="-4" y1="1.5" x2="0" y2="-1" stroke="#555" stroke-width="0.6"/><line x1="0" y1="-1" x2="4" y2="1.5" stroke="#555" stroke-width="0.6"/><circle cx="-6" cy="0" r="0.75" fill="#7fd4f0"/><circle cx="-5.5" cy="3.8" r="0.75" fill="#7fd4f0"/><circle cx="6" cy="0" r="0.75" fill="#7fd4f0"/><circle cx="5.5" cy="3.8" r="0.75" fill="#7fd4f0"/><circle cx="-1.5" cy="-3.2" r="0.75" fill="#7fd4f0"/><circle cx="1.5" cy="-3.2" r="0.75" fill="#7fd4f0"/><circle cx="0" cy="2" r="0.75" fill="#7fd4f0"/><circle cx="-4" cy="1.5" r="1.1" fill="#d03a2a"/><circle cx="4" cy="1.5" r="1.1" fill="#d03a2a"/><circle cx="0" cy="-1" r="1.0" fill="#2a4ad0"/></g>
<g transform="translate(136.2,429.7) scale(0.85)"><line x1="-2.5" y1="0" x2="2.5" y2="0" stroke="#555" stroke-width="0.6"/><circle cx="-4.5" cy="-1.8" r="0.75" fill="#7fd4f0"/><circle cx="-4.5" cy="1.8" r="0.75" fill="#7fd4f0"/><circle cx="-2.5" cy="-2.8" r="0.75" fill="#7fd4f0"/><circle cx="4.5" cy="-1.8" r="0.75" fill="#7fd4f0"/><circle cx="4.5" cy="1.8" r="0.75" fill="#7fd4f0"/><circle cx="2.5" cy="2.8" r="0.75" fill="#7fd4f0"/><circle cx="-2.5" cy="0" r="1.1" fill="#d03a2a"/><circle cx="2.5" cy="0" r="1.0" fill="#2a4ad0"/></g>
<g transform="translate(153.7,429.7) scale(0.85)"><line x1="-4" y1="1.5" x2="0" y2="-1" stroke="#555" stroke-width="0.6"/><line x1="0" y1="-1" x2="4" y2="1.5" stroke="#555" stroke-width="0.6"/><circle cx="-6" cy="0" r="0.75" fill="#7fd4f0"/><circle cx="-5.5" cy="3.8" r="0.75" fill="#7fd4f0"/><circle cx="6" cy="0" r="0.75" fill="#7fd4f0"/><circle cx="5.5" cy="3.8" r="0.75" fill="#7fd4f0"/><circle cx="-1.5" cy="-3.2" r="0.75" fill="#7fd4f0"/><circle cx="1.5" cy="-3.2" r="0.75" fill="#7fd4f0"/><circle cx="0" cy="2" r="0.75" fill="#7fd4f0"/><circle cx="-4" cy="1.5" r="1.1" fill="#d03a2a"/><circle cx="4" cy="1.5" r="1.1" fill="#d03a2a"/><circle cx="0" cy="-1" r="1.0" fill="#2a4ad0"/></g>
<g transform="translate(118.7,447.1) scale(0.85)"><line x1="-4" y1="1.5" x2="0" y2="-1" stroke="#555" stroke-width="0.6"/><line x1="0" y1="-1" x2="4" y2="1.5" stroke="#555" stroke-width="0.6"/><circle cx="-6" cy="0" r="0.75" fill="#7fd4f0"/><circle cx="-5.5" cy="3.8" r="0.75" fill="#7fd4f0"/><circle cx="6" cy="0" r="0.75" fill="#7fd4f0"/><circle cx="5.5" cy="3.8" r="0.75" fill="#7fd4f0"/><circle cx="-1.5" cy="-3.2" r="0.75" fill="#7fd4f0"/><circle cx="1.5" cy="-3.2" r="0.75" fill="#7fd4f0"/><circle cx="0" cy="2" r="0.75" fill="#7fd4f0"/><circle cx="-4" cy="1.5" r="1.1" fill="#d03a2a"/><circle cx="4" cy="1.5" r="1.1" fill="#d03a2a"/><circle cx="0" cy="-1" r="1.0" fill="#2a4ad0"/></g>
<g transform="translate(136.2,447.1) scale(0.85)"><line x1="-2.5" y1="0" x2="2.5" y2="0" stroke="#555" stroke-width="0.6"/><circle cx="-4.5" cy="-1.8" r="0.75" fill="#7fd4f0"/><circle cx="-4.5" cy="1.8" r="0.75" fill="#7fd4f0"/><circle cx="-2.5" cy="-2.8" r="0.75" fill="#7fd4f0"/><circle cx="4.5" cy="-1.8" r="0.75" fill="#7fd4f0"/><circle cx="4.5" cy="1.8" r="0.75" fill="#7fd4f0"/><circle cx="2.5" cy="2.8" r="0.75" fill="#7fd4f0"/><circle cx="-2.5" cy="0" r="1.1" fill="#d03a2a"/><circle cx="2.5" cy="0" r="1.0" fill="#2a4ad0"/></g>
<g transform="translate(153.7,447.1) scale(0.85)"><line x1="-4" y1="1.5" x2="0" y2="-1" stroke="#555" stroke-width="0.6"/><line x1="0" y1="-1" x2="4" y2="1.5" stroke="#555" stroke-width="0.6"/><circle cx="-6" cy="0" r="0.75" fill="#7fd4f0"/><circle cx="-5.5" cy="3.8" r="0.75" fill="#7fd4f0"/><circle cx="6" cy="0" r="0.75" fill="#7fd4f0"/><circle cx="5.5" cy="3.8" r="0.75" fill="#7fd4f0"/><circle cx="-1.5" cy="-3.2" r="0.75" fill="#7fd4f0"/><circle cx="1.5" cy="-3.2" r="0.75" fill="#7fd4f0"/><circle cx="0" cy="2" r="0.75" fill="#7fd4f0"/><circle cx="-4" cy="1.5" r="1.1" fill="#d03a2a"/><circle cx="4" cy="1.5" r="1.1" fill="#d03a2a"/><circle cx="0" cy="-1" r="1.0" fill="#2a4ad0"/></g>
<circle cx="109.9" cy="421.0" r="2.9" fill="url(#gRed)"/>
<circle cx="127.4" cy="421.0" r="2.9" fill="url(#gBrn)"/>
<circle cx="144.9" cy="421.0" r="2.9" fill="url(#gRed)"/>
<circle cx="162.4" cy="421.0" r="8.6" fill="none" stroke="#e4349a" stroke-width="1.0" stroke-dasharray="1.3,0.9"/>
<text x="159.8" y="422.0" font-size="5" fill="#555" font-style="italic">V<tspan font-size="3" dy="1.2">Sn</tspan></text>
<circle cx="109.9" cy="438.4" r="2.9" fill="url(#gBrn)"/>
<circle cx="127.4" cy="438.4" r="2.9" fill="url(#gRed)"/>
<circle cx="144.9" cy="438.4" r="2.9" fill="url(#gBrn)"/>
<circle cx="162.4" cy="438.4" r="2.9" fill="url(#gRed)"/>
<circle cx="109.9" cy="455.8" r="2.9" fill="url(#gRed)"/>
<circle cx="127.4" cy="455.8" r="8.6" fill="none" stroke="#e4349a" stroke-width="1.0" stroke-dasharray="1.3,0.9"/>
<text x="124.8" y="456.8" font-size="5" fill="#555" font-style="italic">V<tspan font-size="3" dy="1.2">Sn</tspan></text>
<circle cx="144.9" cy="455.8" r="2.9" fill="url(#gRed)"/>
<circle cx="162.4" cy="455.8" r="2.9" fill="url(#gBrn)"/>
<circle cx="162.4" cy="447.1" r="2.0" fill="url(#gTeal)"/>
<circle cx="144.9" cy="429.7" r="2.0" fill="url(#gTeal)"/>
<circle cx="144.9" cy="464.5" r="2.0" fill="url(#gTeal)"/>
<circle cx="127.4" cy="429.7" r="2.0" fill="url(#gTeal)"/>
<circle cx="118.6" cy="421.0" r="2.0" fill="url(#gTeal)"/>
<circle cx="127.4" cy="464.5" r="2.0" fill="url(#gTeal)"/>
<circle cx="153.7" cy="438.4" r="2.0" fill="url(#gTeal)"/>
<circle cx="153.7" cy="455.8" r="2.0" fill="url(#gTeal)"/>
<circle cx="136.2" cy="438.4" r="2.0" fill="url(#gTeal)"/>
<circle cx="136.2" cy="455.8" r="2.0" fill="url(#gTeal)"/>
<circle cx="162.4" cy="429.7" r="2.0" fill="url(#gTeal)"/>
<circle cx="153.6" cy="421.0" r="2.0" fill="url(#gTeal)"/>
<circle cx="162.4" cy="464.5" r="2.0" fill="url(#gTeal)"/>
<circle cx="136.1" cy="421.0" r="2.0" fill="url(#gTeal)"/>
<circle cx="109.9" cy="412.3" r="2.0" fill="url(#gTeal)"/>
<circle cx="118.7" cy="421.0" r="2.0" fill="url(#gTeal)"/>
<circle cx="118.6" cy="438.4" r="2.0" fill="url(#gTeal)"/>
<circle cx="101.2" cy="421.0" r="2.0" fill="url(#gTeal)"/>
<circle cx="118.6" cy="455.8" r="2.0" fill="url(#gTeal)"/>
<circle cx="171.1" cy="421.0" r="2.0" fill="url(#gTeal)"/>
<circle cx="109.9" cy="447.1" r="2.0" fill="url(#gTeal)"/>
<circle cx="144.9" cy="412.3" r="2.0" fill="url(#gTeal)"/>
<circle cx="153.6" cy="438.4" r="2.0" fill="url(#gTeal)"/>
<circle cx="153.6" cy="455.8" r="2.0" fill="url(#gTeal)"/>
<circle cx="136.1" cy="438.4" r="2.0" fill="url(#gTeal)"/>
<circle cx="136.1" cy="455.8" r="2.0" fill="url(#gTeal)"/>
<circle cx="144.9" cy="447.1" r="2.0" fill="url(#gTeal)"/>
<circle cx="127.4" cy="412.3" r="2.0" fill="url(#gTeal)"/>
<circle cx="127.4" cy="447.1" r="2.0" fill="url(#gTeal)"/>
<circle cx="153.7" cy="421.0" r="2.0" fill="url(#gTeal)"/>
<circle cx="109.9" cy="429.7" r="2.0" fill="url(#gTeal)"/>
<circle cx="118.7" cy="438.4" r="2.0" fill="url(#gTeal)"/>
<circle cx="118.7" cy="455.8" r="2.0" fill="url(#gTeal)"/>
<circle cx="136.2" cy="421.0" r="2.0" fill="url(#gTeal)"/>
<circle cx="101.2" cy="438.4" r="2.0" fill="url(#gTeal)"/>
<circle cx="101.2" cy="455.8" r="2.0" fill="url(#gTeal)"/>
<circle cx="171.1" cy="438.4" r="2.0" fill="url(#gTeal)"/>
<circle cx="171.1" cy="455.8" r="2.0" fill="url(#gTeal)"/>
<circle cx="109.9" cy="464.5" r="2.0" fill="url(#gTeal)"/>
<circle cx="162.4" cy="412.3" r="2.0" fill="url(#gTeal)"/>
<path d="M102.00,496.30L110.90,487.30L119.80,496.30L110.90,505.30ZM119.35,496.30L128.25,487.30L137.15,496.30L128.25,505.30ZM136.70,496.30L145.60,487.30L154.50,496.30L145.60,505.30ZM154.05,496.30L162.95,487.30L171.85,496.30L162.95,505.30ZM102.00,513.80L110.90,504.80L119.80,513.80L110.90,522.80ZM119.35,513.80L128.25,504.80L137.15,513.80L128.25,522.80ZM136.70,513.80L145.60,504.80L154.50,513.80L145.60,522.80ZM154.05,513.80L162.95,504.80L171.85,513.80L162.95,522.80ZM102.00,531.30L110.90,522.30L119.80,531.30L110.90,540.30ZM119.35,531.30L128.25,522.30L137.15,531.30L128.25,540.30ZM136.70,531.30L145.60,522.30L154.50,531.30L145.60,540.30ZM154.05,531.30L162.95,522.30L171.85,531.30L162.95,540.30Z" fill="none" stroke="#4a4a4a" stroke-width="0.8"/>
<g transform="translate(119.6,505.1) scale(0.85)"><line x1="-4" y1="1.5" x2="0" y2="-1" stroke="#555" stroke-width="0.6"/><line x1="0" y1="-1" x2="4" y2="1.5" stroke="#555" stroke-width="0.6"/><circle cx="-6" cy="0" r="0.75" fill="#7fd4f0"/><circle cx="-5.5" cy="3.8" r="0.75" fill="#7fd4f0"/><circle cx="6" cy="0" r="0.75" fill="#7fd4f0"/><circle cx="5.5" cy="3.8" r="0.75" fill="#7fd4f0"/><circle cx="-1.5" cy="-3.2" r="0.75" fill="#7fd4f0"/><circle cx="1.5" cy="-3.2" r="0.75" fill="#7fd4f0"/><circle cx="0" cy="2" r="0.75" fill="#7fd4f0"/><circle cx="-4" cy="1.5" r="1.1" fill="#d03a2a"/><circle cx="4" cy="1.5" r="1.1" fill="#d03a2a"/><circle cx="0" cy="-1" r="1.0" fill="#2a4ad0"/></g>
<g transform="translate(136.9,505.1) scale(0.85)"><line x1="-2.5" y1="0" x2="2.5" y2="0" stroke="#555" stroke-width="0.6"/><circle cx="-4.5" cy="-1.8" r="0.75" fill="#7fd4f0"/><circle cx="-4.5" cy="1.8" r="0.75" fill="#7fd4f0"/><circle cx="-2.5" cy="-2.8" r="0.75" fill="#7fd4f0"/><circle cx="4.5" cy="-1.8" r="0.75" fill="#7fd4f0"/><circle cx="4.5" cy="1.8" r="0.75" fill="#7fd4f0"/><circle cx="2.5" cy="2.8" r="0.75" fill="#7fd4f0"/><circle cx="-2.5" cy="0" r="1.1" fill="#d03a2a"/><circle cx="2.5" cy="0" r="1.0" fill="#2a4ad0"/></g>
<g transform="translate(154.3,505.1) scale(0.85)"><line x1="-4" y1="1.5" x2="0" y2="-1" stroke="#555" stroke-width="0.6"/><line x1="0" y1="-1" x2="4" y2="1.5" stroke="#555" stroke-width="0.6"/><circle cx="-6" cy="0" r="0.75" fill="#7fd4f0"/><circle cx="-5.5" cy="3.8" r="0.75" fill="#7fd4f0"/><circle cx="6" cy="0" r="0.75" fill="#7fd4f0"/><circle cx="5.5" cy="3.8" r="0.75" fill="#7fd4f0"/><circle cx="-1.5" cy="-3.2" r="0.75" fill="#7fd4f0"/><circle cx="1.5" cy="-3.2" r="0.75" fill="#7fd4f0"/><circle cx="0" cy="2" r="0.75" fill="#7fd4f0"/><circle cx="-4" cy="1.5" r="1.1" fill="#d03a2a"/><circle cx="4" cy="1.5" r="1.1" fill="#d03a2a"/><circle cx="0" cy="-1" r="1.0" fill="#2a4ad0"/></g>
<g transform="translate(119.6,522.5) scale(0.85)"><line x1="-4" y1="1.5" x2="0" y2="-1" stroke="#555" stroke-width="0.6"/><line x1="0" y1="-1" x2="4" y2="1.5" stroke="#555" stroke-width="0.6"/><circle cx="-6" cy="0" r="0.75" fill="#7fd4f0"/><circle cx="-5.5" cy="3.8" r="0.75" fill="#7fd4f0"/><circle cx="6" cy="0" r="0.75" fill="#7fd4f0"/><circle cx="5.5" cy="3.8" r="0.75" fill="#7fd4f0"/><circle cx="-1.5" cy="-3.2" r="0.75" fill="#7fd4f0"/><circle cx="1.5" cy="-3.2" r="0.75" fill="#7fd4f0"/><circle cx="0" cy="2" r="0.75" fill="#7fd4f0"/><circle cx="-4" cy="1.5" r="1.1" fill="#d03a2a"/><circle cx="4" cy="1.5" r="1.1" fill="#d03a2a"/><circle cx="0" cy="-1" r="1.0" fill="#2a4ad0"/></g>
<g transform="translate(136.9,522.5) scale(0.85)"><line x1="-2.5" y1="0" x2="2.5" y2="0" stroke="#555" stroke-width="0.6"/><circle cx="-4.5" cy="-1.8" r="0.75" fill="#7fd4f0"/><circle cx="-4.5" cy="1.8" r="0.75" fill="#7fd4f0"/><circle cx="-2.5" cy="-2.8" r="0.75" fill="#7fd4f0"/><circle cx="4.5" cy="-1.8" r="0.75" fill="#7fd4f0"/><circle cx="4.5" cy="1.8" r="0.75" fill="#7fd4f0"/><circle cx="2.5" cy="2.8" r="0.75" fill="#7fd4f0"/><circle cx="-2.5" cy="0" r="1.1" fill="#d03a2a"/><circle cx="2.5" cy="0" r="1.0" fill="#2a4ad0"/></g>
<g transform="translate(154.3,522.5) scale(0.85)"><line x1="-4" y1="1.5" x2="0" y2="-1" stroke="#555" stroke-width="0.6"/><line x1="0" y1="-1" x2="4" y2="1.5" stroke="#555" stroke-width="0.6"/><circle cx="-6" cy="0" r="0.75" fill="#7fd4f0"/><circle cx="-5.5" cy="3.8" r="0.75" fill="#7fd4f0"/><circle cx="6" cy="0" r="0.75" fill="#7fd4f0"/><circle cx="5.5" cy="3.8" r="0.75" fill="#7fd4f0"/><circle cx="-1.5" cy="-3.2" r="0.75" fill="#7fd4f0"/><circle cx="1.5" cy="-3.2" r="0.75" fill="#7fd4f0"/><circle cx="0" cy="2" r="0.75" fill="#7fd4f0"/><circle cx="-4" cy="1.5" r="1.1" fill="#d03a2a"/><circle cx="4" cy="1.5" r="1.1" fill="#d03a2a"/><circle cx="0" cy="-1" r="1.0" fill="#2a4ad0"/></g>
<circle cx="110.9" cy="496.3" r="2.9" fill="url(#gRed)"/>
<circle cx="128.2" cy="496.3" r="2.9" fill="url(#gBrn)"/>
<circle cx="145.6" cy="496.3" r="2.9" fill="url(#gRed)"/>
<circle cx="163.0" cy="496.3" r="2.9" fill="url(#gBrn)"/>
<circle cx="110.9" cy="513.8" r="2.9" fill="url(#gBrn)"/>
<circle cx="128.2" cy="513.8" r="2.9" fill="url(#gRed)"/>
<circle cx="145.6" cy="513.8" r="2.9" fill="url(#gBrn)"/>
<circle cx="163.0" cy="513.8" r="2.9" fill="url(#gRed)"/>
<circle cx="110.9" cy="531.3" r="2.9" fill="url(#gRed)"/>
<circle cx="128.2" cy="531.3" r="2.9" fill="url(#gBrn)"/>
<circle cx="145.6" cy="531.3" r="2.9" fill="url(#gRed)"/>
<circle cx="163.0" cy="531.3" r="2.9" fill="url(#gBrn)"/>
<circle cx="145.6" cy="505.3" r="2.0" fill="url(#gTeal)"/>
<circle cx="154.1" cy="513.8" r="2.0" fill="url(#gTeal)"/>
<circle cx="110.9" cy="504.8" r="2.0" fill="url(#gTeal)"/>
<circle cx="163.0" cy="504.8" r="2.0" fill="url(#gTeal)"/>
<circle cx="137.2" cy="513.8" r="2.0" fill="url(#gTeal)"/>
<circle cx="102.0" cy="513.8" r="2.0" fill="url(#gTeal)"/>
<circle cx="154.1" cy="531.3" r="2.0" fill="url(#gTeal)"/>
<circle cx="128.2" cy="522.8" r="2.0" fill="url(#gTeal)"/>
<circle cx="102.0" cy="531.3" r="2.0" fill="url(#gTeal)"/>
<circle cx="128.2" cy="522.3" r="2.0" fill="url(#gTeal)"/>
<circle cx="154.5" cy="513.8" r="2.0" fill="url(#gTeal)"/>
<circle cx="119.8" cy="513.8" r="2.0" fill="url(#gTeal)"/>
<circle cx="154.1" cy="496.3" r="2.0" fill="url(#gTeal)"/>
<circle cx="137.2" cy="531.3" r="2.0" fill="url(#gTeal)"/>
<circle cx="136.7" cy="513.8" r="2.0" fill="url(#gTeal)"/>
<circle cx="137.2" cy="496.3" r="2.0" fill="url(#gTeal)"/>
<circle cx="102.0" cy="496.3" r="2.0" fill="url(#gTeal)"/>
<circle cx="128.2" cy="487.3" r="2.0" fill="url(#gTeal)"/>
<circle cx="145.6" cy="504.8" r="2.0" fill="url(#gTeal)"/>
<circle cx="119.8" cy="531.3" r="2.0" fill="url(#gTeal)"/>
<circle cx="128.2" cy="540.3" r="2.0" fill="url(#gTeal)"/>
<circle cx="136.7" cy="531.3" r="2.0" fill="url(#gTeal)"/>
<circle cx="154.5" cy="531.3" r="2.0" fill="url(#gTeal)"/>
<circle cx="128.2" cy="505.3" r="2.0" fill="url(#gTeal)"/>
<circle cx="154.5" cy="496.3" r="2.0" fill="url(#gTeal)"/>
<circle cx="119.8" cy="496.3" r="2.0" fill="url(#gTeal)"/>
<circle cx="110.9" cy="522.8" r="2.0" fill="url(#gTeal)"/>
<circle cx="110.9" cy="522.3" r="2.0" fill="url(#gTeal)"/>
<circle cx="136.7" cy="496.3" r="2.0" fill="url(#gTeal)"/>
<circle cx="119.3" cy="513.8" r="2.0" fill="url(#gTeal)"/>
<circle cx="163.0" cy="522.8" r="2.0" fill="url(#gTeal)"/>
<circle cx="163.0" cy="522.3" r="2.0" fill="url(#gTeal)"/>
<circle cx="110.9" cy="487.3" r="2.0" fill="url(#gTeal)"/>
<circle cx="110.9" cy="540.3" r="2.0" fill="url(#gTeal)"/>
<circle cx="119.3" cy="531.3" r="2.0" fill="url(#gTeal)"/>
<circle cx="163.0" cy="487.3" r="2.0" fill="url(#gTeal)"/>
<circle cx="163.0" cy="540.3" r="2.0" fill="url(#gTeal)"/>
<circle cx="110.9" cy="505.3" r="2.0" fill="url(#gTeal)"/>
<circle cx="171.9" cy="513.8" r="2.0" fill="url(#gTeal)"/>
<circle cx="119.3" cy="496.3" r="2.0" fill="url(#gTeal)"/>
<circle cx="128.2" cy="504.8" r="2.0" fill="url(#gTeal)"/>
<circle cx="163.0" cy="505.3" r="2.0" fill="url(#gTeal)"/>
<circle cx="171.9" cy="531.3" r="2.0" fill="url(#gTeal)"/>
<circle cx="145.6" cy="522.8" r="2.0" fill="url(#gTeal)"/>
<circle cx="145.6" cy="522.3" r="2.0" fill="url(#gTeal)"/>
<circle cx="145.6" cy="540.3" r="2.0" fill="url(#gTeal)"/>
<circle cx="171.9" cy="496.3" r="2.0" fill="url(#gTeal)"/>
<circle cx="145.6" cy="487.3" r="2.0" fill="url(#gTeal)"/>
<text x="136.5" y="403.8" font-size="8" fill="#222" font-weight="bold" text-anchor="middle" textLength="16.2" lengthAdjust="spacingAndGlyphs" >Film</text>
<text x="130.4" y="476.2" font-size="6.6" fill="#222" font-weight="bold" text-anchor="middle" textLength="31" lengthAdjust="spacingAndGlyphs" >Sn vacancy</text>
<rect x="180.2" y="415.4" width="21.2" height="122.2" rx="4" fill="#fff" stroke="#707070" stroke-width="0.8"/>
<g transform="translate(191.0,426.5) scale(1.55)"><line x1="-4" y1="1.5" x2="0" y2="-1" stroke="#555" stroke-width="0.6"/><line x1="0" y1="-1" x2="4" y2="1.5" stroke="#555" stroke-width="0.6"/><circle cx="-6" cy="0" r="0.75" fill="#7fd4f0"/><circle cx="-5.5" cy="3.8" r="0.75" fill="#7fd4f0"/><circle cx="6" cy="0" r="0.75" fill="#7fd4f0"/><circle cx="5.5" cy="3.8" r="0.75" fill="#7fd4f0"/><circle cx="-1.5" cy="-3.2" r="0.75" fill="#7fd4f0"/><circle cx="1.5" cy="-3.2" r="0.75" fill="#7fd4f0"/><circle cx="0" cy="2" r="0.75" fill="#7fd4f0"/><circle cx="-4" cy="1.5" r="1.1" fill="#d03a2a"/><circle cx="4" cy="1.5" r="1.1" fill="#d03a2a"/><circle cx="0" cy="-1" r="1.0" fill="#2a4ad0"/></g>
<g transform="translate(191.0,452.0) scale(1.5)"><line x1="-2.5" y1="0" x2="2.5" y2="0" stroke="#555" stroke-width="0.6"/><circle cx="-4.5" cy="-1.8" r="0.75" fill="#7fd4f0"/><circle cx="-4.5" cy="1.8" r="0.75" fill="#7fd4f0"/><circle cx="-2.5" cy="-2.8" r="0.75" fill="#7fd4f0"/><circle cx="4.5" cy="-1.8" r="0.75" fill="#7fd4f0"/><circle cx="4.5" cy="1.8" r="0.75" fill="#7fd4f0"/><circle cx="2.5" cy="2.8" r="0.75" fill="#7fd4f0"/><circle cx="-2.5" cy="0" r="1.1" fill="#d03a2a"/><circle cx="2.5" cy="0" r="1.0" fill="#2a4ad0"/></g>
<circle cx="191.0" cy="475.7" r="4.3" fill="url(#gRed)"/>
<circle cx="191.0" cy="501.7" r="4.3" fill="url(#gBrn)"/>
<circle cx="191.0" cy="525.4" r="3.0" fill="url(#gTeal)"/>
<text x="191" y="437.2" font-size="6.5" fill="#1a1a1a" font-weight="bold" text-anchor="middle" >FA<tspan font-size='4' dy='-2.5'>+</tspan></text>
<text x="191" y="464.8" font-size="6.5" fill="#1a1a1a" font-weight="bold" text-anchor="middle" >MA<tspan font-size='4' dy='-2.5'>+</tspan></text>
<text x="191" y="489.2" font-size="6.5" fill="#1a1a1a" font-weight="bold" text-anchor="middle" >Pb<tspan font-size='4' dy='-2.5'>2+</tspan></text>
<text x="191" y="514.5" font-size="6.5" fill="#1a1a1a" font-weight="bold" text-anchor="middle" >Sn<tspan font-size='4' dy='-2.5'>2+</tspan></text>
<text x="191" y="534.8" font-size="6.5" fill="#1a1a1a" font-weight="bold" text-anchor="middle" >I<tspan font-size='4' dy='-2.5'>-</tspan></text>
<polygon points="214.10,430.10 278.30,430.10 278.30,433.50 214.10,433.50" fill="#8c6c22" />
<polygon points="278.30,430.10 306.50,402.30 306.50,405.70 278.30,433.50" fill="#9a7a2a" />
<polygon points="214.10,433.50 278.30,433.50 278.30,440.40 214.10,440.40" fill="#bcc8d8" />
<polygon points="278.30,433.50 306.50,405.70 306.50,412.60 278.30,440.40" fill="#ccd6e2" />
<polygon points="214.10,440.40 278.30,440.40 278.30,469.00 214.10,469.00" fill="#8a8672" />
<polygon points="278.30,440.40 306.50,412.60 306.50,441.20 278.30,469.00" fill="#9a968a" />
<polygon points="214.10,469.00 278.30,469.00 278.30,474.70 214.10,474.70" fill="#d8cc46" />
<polygon points="278.30,469.00 306.50,441.20 306.50,446.90 278.30,474.70" fill="#e2d860" />
<polygon points="214.10,474.70 278.30,474.70 278.30,479.50 214.10,479.50" fill="#7c5abe" />
<polygon points="278.30,474.70 306.50,446.90 306.50,451.70 278.30,479.50" fill="#8e6ccc" />
<polygon points="214.10,479.50 278.30,479.50 278.30,485.70 214.10,485.70" fill="#c2c8e2" />
<polygon points="278.30,479.50 306.50,451.70 306.50,457.90 278.30,485.70" fill="#d0d6ea" />
<polygon points="214.10,485.70 278.30,485.70 278.30,505.60 214.10,505.60" fill="#f6b894" />
<polygon points="278.30,485.70 306.50,457.90 306.50,477.80 278.30,505.60" fill="#f8c4a8" />
<polygon points="214.10,505.60 278.30,505.60 278.30,510.40 214.10,510.40" fill="#a4dcc2" />
<polygon points="278.30,505.60 306.50,477.80 306.50,482.60 278.30,510.40" fill="#b4e4d0" />
<polygon points="214.10,510.40 278.30,510.40 278.30,517.00 214.10,517.00" fill="#12a4e6" />
<polygon points="278.30,510.40 306.50,482.60 306.50,489.20 278.30,517.00" fill="#30b4ee" />
<polygon points="214.10,517.00 278.30,517.00 278.30,518.00 214.10,518.00" fill="#e8f0f6" />
<polygon points="278.30,517.00 306.50,489.20 306.50,490.20 278.30,518.00" fill="#e8f0f6" />
<polygon points="214.10,518.00 278.30,518.00 278.30,537.20 214.10,537.20" fill="#a6cae6" />
<polygon points="278.30,518.00 306.50,490.20 306.50,509.40 278.30,537.20" fill="#b6d4ec" />
<polygon points="214.10,430.10 278.30,430.10 306.50,402.30 242.30,402.30" fill="#a8883a" />
<text x="246.2" y="432.9" font-size="5.5120000000000005" fill="#1e1e1e" font-weight="normal" text-anchor="middle" stroke="#1e1e1e" stroke-width="0.1">Cu</text>
<text x="246.2" y="439.0" font-size="5.936" fill="#1e1e1e" font-weight="normal" text-anchor="middle" stroke="#1e1e1e" stroke-width="0.1">C<tspan font-size='3.6' dy='1.3'>60</tspan><tspan dy='-1.3'>/BCP</tspan></text>
<text x="246.2" y="454.3" font-size="5.936" fill="#1e1e1e" font-weight="normal" text-anchor="middle" stroke="#1e1e1e" stroke-width="0.1">1.22-eV low-<tspan font-style='italic'>E</tspan><tspan font-size='3.6' dy='1.3'>g</tspan></text>
<text x="246.2" y="460.8" font-size="5.936" fill="#1e1e1e" font-weight="normal" text-anchor="middle" stroke="#1e1e1e" stroke-width="0.1">perovskite</text>
<text x="246.2" y="474.0" font-size="5.936" fill="#1e1e1e" font-weight="normal" text-anchor="middle" stroke="#1e1e1e" stroke-width="0.1">PEDOT:PSS</text>
<text x="246.2" y="479.4" font-size="5.936" fill="#1e1e1e" font-weight="normal" text-anchor="middle" stroke="#1e1e1e" stroke-width="0.1">ALD-SnO<tspan font-size='3.6' dy='1.3'>2</tspan><tspan dy='-1.3'>/Au</tspan></text>
<text x="246.2" y="485.0" font-size="5.936" fill="#1e1e1e" font-weight="normal" text-anchor="middle" stroke="#1e1e1e" stroke-width="0.1">C<tspan font-size='3.6' dy='1.3'>60</tspan></text>
<text x="246.2" y="495.8" font-size="5.936" fill="#1e1e1e" font-weight="normal" text-anchor="middle" stroke="#1e1e1e" stroke-width="0.1">1.77-eV wide-<tspan font-style='italic'>E</tspan><tspan font-size='3.6' dy='1.3'>g</tspan></text>
<text x="246.2" y="502.5" font-size="5.936" fill="#1e1e1e" font-weight="normal" text-anchor="middle" stroke="#1e1e1e" stroke-width="0.1">perovskite</text>
<text x="246.2" y="510.8" font-size="5.936" fill="#1e1e1e" font-weight="normal" text-anchor="middle" stroke="#1e1e1e" stroke-width="0.1">PTAA</text>
<text x="246.2" y="516.3" font-size="5.936" fill="#1e1e1e" font-weight="normal" text-anchor="middle" stroke="#1e1e1e" stroke-width="0.1">ITO</text>
<text x="246.2" y="530.4" font-size="5.936" fill="#1e1e1e" font-weight="normal" text-anchor="middle" stroke="#1e1e1e" stroke-width="0.1">Glass</text>
<path d="M335.6,518.40h2.4M335.6,501.12h2.4M335.6,483.83h2.4M335.6,466.55h2.4M335.6,449.27h2.4M335.6,431.98h2.4M335.6,414.70h2.4M335.60,518.4v-2.4M363.20,518.4v-2.4M390.80,518.4v-2.4M418.40,518.4v-2.4M446.00,518.4v-2.4" stroke="#444" stroke-width="0.6" fill="none"/>
<rect x="335.6" y="414.7" width="122.0" height="103.7" fill="none" stroke="#444" stroke-width="0.8"/>
<text x="332.6" y="520.8" font-size="6.6" fill="#2a2a2a" font-weight="normal" text-anchor="end" >0</text>
<text x="332.6" y="503.5" font-size="6.6" fill="#2a2a2a" font-weight="normal" text-anchor="end" >3</text>
<text x="332.6" y="486.2" font-size="6.6" fill="#2a2a2a" font-weight="normal" text-anchor="end" >6</text>
<text x="332.6" y="468.9" font-size="6.6" fill="#2a2a2a" font-weight="normal" text-anchor="end" >9</text>
<text x="332.6" y="451.7" font-size="6.6" fill="#2a2a2a" font-weight="normal" text-anchor="end" >12</text>
<text x="332.6" y="434.4" font-size="6.6" fill="#2a2a2a" font-weight="normal" text-anchor="end" >15</text>
<text x="332.6" y="417.1" font-size="6.6" fill="#2a2a2a" font-weight="normal" text-anchor="end" >18</text>
<text x="0" y="0" font-size="6.9" fill="#2a2a2a" font-weight="normal" text-anchor="end" transform="translate(339.0,522.6) rotate(-45)">0.0</text>
<text x="0" y="0" font-size="6.9" fill="#2a2a2a" font-weight="normal" text-anchor="end" transform="translate(366.6,522.6) rotate(-45)">0.5</text>
<text x="0" y="0" font-size="6.9" fill="#2a2a2a" font-weight="normal" text-anchor="end" transform="translate(394.2,522.6) rotate(-45)">1.0</text>
<text x="0" y="0" font-size="6.9" fill="#2a2a2a" font-weight="normal" text-anchor="end" transform="translate(421.8,522.6) rotate(-45)">1.5</text>
<text x="0" y="0" font-size="6.9" fill="#2a2a2a" font-weight="normal" text-anchor="end" transform="translate(449.4,522.6) rotate(-45)">2.0</text>
<text x="396" y="538.2" font-size="6.8" fill="#333" font-weight="normal" text-anchor="middle" textLength="31.5" lengthAdjust="spacingAndGlyphs" >Voltage (V)</text>
<text x="0" y="0" font-size="6.6" fill="#333" font-weight="normal" text-anchor="middle" transform="translate(320,464.8) rotate(-90)">Current density (mA cm<tspan font-size='4.2' dy='-2.3'>&#8722;2</tspan><tspan dy='2.3'>)</tspan></text>
<text x="343.7" y="426.2" font-size="7.8" fill="#111" font-weight="bold" text-anchor="start" textLength="50" lengthAdjust="spacingAndGlyphs" >Area: 0.073 cm</text>
<text x="394" y="422.6" font-size="4.8" fill="#111" font-weight="bold" text-anchor="start" >2</text>
<path d="M335.60,428.30 L337.05,428.32 L338.91,428.34 L341.11,428.36 L343.57,428.39 L346.24,428.43 L349.03,428.46 L351.87,428.49 L354.69,428.53 L357.43,428.56 L360.00,428.60 L362.48,428.64 L364.96,428.67 L367.46,428.71 L369.96,428.75 L372.46,428.79 L374.97,428.83 L377.48,428.87 L379.99,428.91 L382.50,428.96 L385.00,429.00 L387.56,429.05 L390.22,429.10 L392.93,429.15 L395.65,429.20 L398.34,429.25 L400.97,429.30 L403.49,429.35 L405.86,429.40 L408.05,429.45 L410.00,429.50 L411.72,429.54 L413.26,429.57 L414.62,429.59 L415.85,429.61 L416.96,429.63 L417.97,429.66 L418.90,429.69 L419.79,429.74 L420.65,429.81 L421.50,429.90 L422.31,430.00 L423.04,430.11 L423.70,430.22 L424.29,430.35 L424.83,430.49 L425.34,430.64 L425.81,430.82 L426.27,431.02 L426.73,431.25 L427.20,431.50 L427.66,431.78 L428.10,432.09 L428.51,432.42 L428.90,432.77 L429.27,433.14 L429.64,433.54 L429.99,433.95 L430.33,434.38 L430.66,434.83 L431.00,435.30 L431.33,435.78 L431.65,436.29 L431.95,436.81 L432.25,437.35 L432.54,437.91 L432.82,438.49 L433.10,439.09 L433.37,439.71 L433.63,440.34 L433.90,441.00 L434.16,441.67 L434.42,442.37 L434.67,443.08 L434.92,443.81 L435.16,444.56 L435.40,445.32 L435.63,446.11 L435.86,446.92 L436.08,447.75 L436.30,448.60 L436.51,449.46 L436.71,450.33 L436.90,451.22 L437.09,452.12 L437.28,453.04 L437.46,454.00 L437.64,454.99 L437.82,456.01 L438.01,457.08 L438.20,458.20 L438.40,459.38 L438.60,460.62 L438.81,461.91 L439.03,463.25 L439.24,464.61 L439.45,466.00 L439.65,467.39 L439.84,468.77 L440.03,470.15 L440.20,471.50 L440.36,472.83 L440.50,474.14 L440.64,475.45 L440.77,476.76 L440.89,478.08 L441.01,479.40 L441.13,480.74 L441.25,482.10 L441.37,483.48 L441.50,484.90 L441.63,486.35 L441.76,487.84 L441.89,489.35 L442.02,490.89 L442.16,492.44 L442.29,494.00 L442.42,495.56 L442.55,497.12 L442.67,498.67 L442.80,500.20 L442.93,501.78 L443.06,503.44 L443.20,505.15 L443.33,506.87 L443.46,508.57 L443.59,510.20 L443.71,511.74 L443.82,513.14 L443.92,514.37 L444.00,515.40 L444.07,516.21 L444.12,516.83 L444.17,517.29 L444.20,517.62 L444.23,517.85 L444.24,518.00 L444.26,518.10 L444.27,518.19 L444.29,518.28 L444.30,518.40" fill="none" stroke="#111" stroke-width="1.0" transform="translate(0.8,0)"/>
<path d="M335.60,428.30 L337.05,428.32 L338.91,428.34 L341.11,428.36 L343.57,428.39 L346.24,428.43 L349.03,428.46 L351.87,428.49 L354.69,428.53 L357.43,428.56 L360.00,428.60 L362.48,428.64 L364.96,428.67 L367.46,428.71 L369.96,428.75 L372.46,428.79 L374.97,428.83 L377.48,428.87 L379.99,428.91 L382.50,428.96 L385.00,429.00 L387.56,429.05 L390.22,429.10 L392.93,429.15 L395.65,429.20 L398.34,429.25 L400.97,429.30 L403.49,429.35 L405.86,429.40 L408.05,429.45 L410.00,429.50 L411.72,429.54 L413.26,429.57 L414.62,429.59 L415.85,429.61 L416.96,429.63 L417.97,429.66 L418.90,429.69 L419.79,429.74 L420.65,429.81 L421.50,429.90 L422.31,430.00 L423.04,430.11 L423.70,430.22 L424.29,430.35 L424.83,430.49 L425.34,430.64 L425.81,430.82 L426.27,431.02 L426.73,431.25 L427.20,431.50 L427.66,431.78 L428.10,432.09 L428.51,432.42 L428.90,432.77 L429.27,433.14 L429.64,433.54 L429.99,433.95 L430.33,434.38 L430.66,434.83 L431.00,435.30 L431.33,435.78 L431.65,436.29 L431.95,436.81 L432.25,437.35 L432.54,437.91 L432.82,438.49 L433.10,439.09 L433.37,439.71 L433.63,440.34 L433.90,441.00 L434.16,441.67 L434.42,442.37 L434.67,443.08 L434.92,443.81 L435.16,444.56 L435.40,445.32 L435.63,446.11 L435.86,446.92 L436.08,447.75 L436.30,448.60 L436.51,449.46 L436.71,450.33 L436.90,451.22 L437.09,452.12 L437.28,453.04 L437.46,454.00 L437.64,454.99 L437.82,456.01 L438.01,457.08 L438.20,458.20 L438.40,459.38 L438.60,460.62 L438.81,461.91 L439.03,463.25 L439.24,464.61 L439.45,466.00 L439.65,467.39 L439.84,468.77 L440.03,470.15 L440.20,471.50 L440.36,472.83 L440.50,474.14 L440.64,475.45 L440.77,476.76 L440.89,478.08 L441.01,479.40 L441.13,480.74 L441.25,482.10 L441.37,483.48 L441.50,484.90 L441.63,486.35 L441.76,487.84 L441.89,489.35 L442.02,490.89 L442.16,492.44 L442.29,494.00 L442.42,495.56 L442.55,497.12 L442.67,498.67 L442.80,500.20 L442.93,501.78 L443.06,503.44 L443.20,505.15 L443.33,506.87 L443.46,508.57 L443.59,510.20 L443.71,511.74 L443.82,513.14 L443.92,514.37 L444.00,515.40 L444.07,516.21 L444.12,516.83 L444.17,517.29 L444.20,517.62 L444.23,517.85 L444.24,518.00 L444.26,518.10 L444.27,518.19 L444.29,518.28 L444.30,518.40" fill="none" stroke="#f03c3c" stroke-width="1.5"/>
<circle cx="335.60" cy="428.30" r="1.15" fill="#fbd" stroke="#ee3434" stroke-width="0.7"/><circle cx="338.20" cy="428.33" r="1.15" fill="#fbd" stroke="#ee3434" stroke-width="0.7"/><circle cx="340.80" cy="428.36" r="1.15" fill="#fbd" stroke="#ee3434" stroke-width="0.7"/><circle cx="343.40" cy="428.39" r="1.15" fill="#fbd" stroke="#ee3434" stroke-width="0.7"/><circle cx="346.00" cy="428.42" r="1.15" fill="#fbd" stroke="#ee3434" stroke-width="0.7"/><circle cx="348.60" cy="428.45" r="1.15" fill="#fbd" stroke="#ee3434" stroke-width="0.7"/><circle cx="351.20" cy="428.49" r="1.15" fill="#fbd" stroke="#ee3434" stroke-width="0.7"/><circle cx="353.80" cy="428.52" r="1.15" fill="#fbd" stroke="#ee3434" stroke-width="0.7"/><circle cx="356.40" cy="428.55" r="1.15" fill="#fbd" stroke="#ee3434" stroke-width="0.7"/><circle cx="359.00" cy="428.59" r="1.15" fill="#fbd" stroke="#ee3434" stroke-width="0.7"/><circle cx="361.60" cy="428.62" r="1.15" fill="#fbd" stroke="#ee3434" stroke-width="0.7"/><circle cx="364.20" cy="428.66" r="1.15" fill="#fbd" stroke="#ee3434" stroke-width="0.7"/><circle cx="366.80" cy="428.70" r="1.15" fill="#fbd" stroke="#ee3434" stroke-width="0.7"/><circle cx="369.40" cy="428.74" r="1.15" fill="#fbd" stroke="#ee3434" stroke-width="0.7"/><circle cx="372.00" cy="428.78" r="1.15" fill="#fbd" stroke="#ee3434" stroke-width="0.7"/><circle cx="374.60" cy="428.82" r="1.15" fill="#fbd" stroke="#ee3434" stroke-width="0.7"/><circle cx="377.20" cy="428.86" r="1.15" fill="#fbd" stroke="#ee3434" stroke-width="0.7"/><circle cx="379.80" cy="428.91" r="1.15" fill="#fbd" stroke="#ee3434" stroke-width="0.7"/><circle cx="382.40" cy="428.95" r="1.15" fill="#fbd" stroke="#ee3434" stroke-width="0.7"/><circle cx="384.99" cy="429.00" r="1.15" fill="#fbd" stroke="#ee3434" stroke-width="0.7"/><circle cx="387.59" cy="429.05" r="1.15" fill="#fbd" stroke="#ee3434" stroke-width="0.7"/><circle cx="390.19" cy="429.09" r="1.15" fill="#fbd" stroke="#ee3434" stroke-width="0.7"/><circle cx="392.79" cy="429.14" r="1.15" fill="#fbd" stroke="#ee3434" stroke-width="0.7"/><circle cx="395.39" cy="429.19" r="1.15" fill="#fbd" stroke="#ee3434" stroke-width="0.7"/><circle cx="397.99" cy="429.24" r="1.15" fill="#fbd" stroke="#ee3434" stroke-width="0.7"/><circle cx="400.59" cy="429.29" r="1.15" fill="#fbd" stroke="#ee3434" stroke-width="0.7"/><circle cx="403.19" cy="429.35" r="1.15" fill="#fbd" stroke="#ee3434" stroke-width="0.7"/><circle cx="405.79" cy="429.40" r="1.15" fill="#fbd" stroke="#ee3434" stroke-width="0.7"/><circle cx="408.39" cy="429.46" r="1.15" fill="#fbd" stroke="#ee3434" stroke-width="0.7"/><circle cx="410.99" cy="429.52" r="1.15" fill="#fbd" stroke="#ee3434" stroke-width="0.7"/><circle cx="413.59" cy="429.57" r="1.15" fill="#fbd" stroke="#ee3434" stroke-width="0.7"/><circle cx="416.19" cy="429.62" r="1.15" fill="#fbd" stroke="#ee3434" stroke-width="0.7"/><circle cx="418.79" cy="429.69" r="1.15" fill="#fbd" stroke="#ee3434" stroke-width="0.7"/><circle cx="421.38" cy="429.89" r="1.15" fill="#fbd" stroke="#ee3434" stroke-width="0.7"/><circle cx="423.95" cy="430.28" r="1.15" fill="#fbd" stroke="#ee3434" stroke-width="0.7"/><circle cx="426.41" cy="431.09" r="1.15" fill="#fbd" stroke="#ee3434" stroke-width="0.7"/><circle cx="428.59" cy="432.49" r="1.15" fill="#fbd" stroke="#ee3434" stroke-width="0.7"/><circle cx="430.34" cy="434.40" r="1.15" fill="#fbd" stroke="#ee3434" stroke-width="0.7"/><circle cx="431.80" cy="436.56" r="1.15" fill="#fbd" stroke="#ee3434" stroke-width="0.7"/><circle cx="432.99" cy="438.87" r="1.15" fill="#fbd" stroke="#ee3434" stroke-width="0.7"/><circle cx="434.00" cy="441.26" r="1.15" fill="#fbd" stroke="#ee3434" stroke-width="0.7"/><circle cx="434.89" cy="443.71" r="1.15" fill="#fbd" stroke="#ee3434" stroke-width="0.7"/><circle cx="435.65" cy="446.19" r="1.15" fill="#fbd" stroke="#ee3434" stroke-width="0.7"/><circle cx="436.32" cy="448.70" r="1.15" fill="#fbd" stroke="#ee3434" stroke-width="0.7"/><circle cx="436.91" cy="451.24" r="1.15" fill="#fbd" stroke="#ee3434" stroke-width="0.7"/><circle cx="437.42" cy="453.78" r="1.15" fill="#fbd" stroke="#ee3434" stroke-width="0.7"/><circle cx="437.88" cy="456.34" r="1.15" fill="#fbd" stroke="#ee3434" stroke-width="0.7"/><circle cx="438.32" cy="458.91" r="1.15" fill="#fbd" stroke="#ee3434" stroke-width="0.7"/><circle cx="438.74" cy="461.47" r="1.15" fill="#fbd" stroke="#ee3434" stroke-width="0.7"/><circle cx="439.15" cy="464.04" r="1.15" fill="#fbd" stroke="#ee3434" stroke-width="0.7"/><circle cx="439.54" cy="466.61" r="1.15" fill="#fbd" stroke="#ee3434" stroke-width="0.7"/><circle cx="439.90" cy="469.18" r="1.15" fill="#fbd" stroke="#ee3434" stroke-width="0.7"/><circle cx="440.23" cy="471.76" r="1.15" fill="#fbd" stroke="#ee3434" stroke-width="0.7"/><circle cx="440.53" cy="474.35" r="1.15" fill="#fbd" stroke="#ee3434" stroke-width="0.7"/><circle cx="440.79" cy="476.93" r="1.15" fill="#fbd" stroke="#ee3434" stroke-width="0.7"/><circle cx="441.02" cy="479.52" r="1.15" fill="#fbd" stroke="#ee3434" stroke-width="0.7"/><circle cx="441.25" cy="482.11" r="1.15" fill="#fbd" stroke="#ee3434" stroke-width="0.7"/><circle cx="441.48" cy="484.70" r="1.15" fill="#fbd" stroke="#ee3434" stroke-width="0.7"/><circle cx="441.71" cy="487.29" r="1.15" fill="#fbd" stroke="#ee3434" stroke-width="0.7"/><circle cx="441.94" cy="489.88" r="1.15" fill="#fbd" stroke="#ee3434" stroke-width="0.7"/><circle cx="442.16" cy="492.47" r="1.15" fill="#fbd" stroke="#ee3434" stroke-width="0.7"/><circle cx="442.38" cy="495.06" r="1.15" fill="#fbd" stroke="#ee3434" stroke-width="0.7"/><circle cx="442.59" cy="497.66" r="1.15" fill="#fbd" stroke="#ee3434" stroke-width="0.7"/><circle cx="442.80" cy="500.25" r="1.15" fill="#fbd" stroke="#ee3434" stroke-width="0.7"/><circle cx="443.01" cy="502.84" r="1.15" fill="#fbd" stroke="#ee3434" stroke-width="0.7"/><circle cx="443.22" cy="505.43" r="1.15" fill="#fbd" stroke="#ee3434" stroke-width="0.7"/><circle cx="443.42" cy="508.02" r="1.15" fill="#fbd" stroke="#ee3434" stroke-width="0.7"/><circle cx="443.62" cy="510.61" r="1.15" fill="#fbd" stroke="#ee3434" stroke-width="0.7"/><circle cx="443.82" cy="513.21" r="1.15" fill="#fbd" stroke="#ee3434" stroke-width="0.7"/><circle cx="444.03" cy="515.80" r="1.15" fill="#fbd" stroke="#ee3434" stroke-width="0.7"/><circle cx="444.30" cy="518.38" r="1.15" fill="#fbd" stroke="#ee3434" stroke-width="0.7"/>
<circle cx="432.41" cy="435.46" r="1.2" fill="#111"/>
<circle cx="435.66" cy="442.20" r="1.2" fill="#111"/>
<circle cx="437.79" cy="449.38" r="1.2" fill="#111"/>
<circle cx="439.25" cy="456.74" r="1.2" fill="#111"/>
<circle cx="440.46" cy="464.14" r="1.2" fill="#111"/>
<circle cx="441.51" cy="471.56" r="1.2" fill="#111"/>
<circle cx="442.28" cy="479.02" r="1.2" fill="#111"/>
<circle cx="442.94" cy="486.50" r="1.2" fill="#111"/>
<circle cx="443.58" cy="493.97" r="1.2" fill="#111"/>
<circle cx="444.20" cy="501.44" r="1.2" fill="#111"/>
<circle cx="444.79" cy="508.92" r="1.2" fill="#111"/>
<circle cx="445.38" cy="516.40" r="1.2" fill="#111"/>
<path d="M341,496.8H354" stroke="#111" stroke-width="0.8"/><circle cx="347.5" cy="496.8" r="1" fill="#111"/>
<path d="M341,504H354" stroke="#f04848" stroke-width="0.8"/><circle cx="347.5" cy="504" r="1.1" fill="#fff" stroke="#f04848" stroke-width="0.5"/>
<text x="360.2" y="499.0" font-size="6.3" fill="#111" font-weight="normal" text-anchor="start" textLength="59.2" lengthAdjust="spacingAndGlyphs" stroke="#111" stroke-width="0.15">Reverse, PCE = 24.8%</text>
<text x="360.2" y="505.5" font-size="6.3" fill="#111" font-weight="normal" text-anchor="start" textLength="59.2" lengthAdjust="spacingAndGlyphs" stroke="#111" stroke-width="0.15">Forward, PCE = 24.5%</text>
</svg>
</body></html>
